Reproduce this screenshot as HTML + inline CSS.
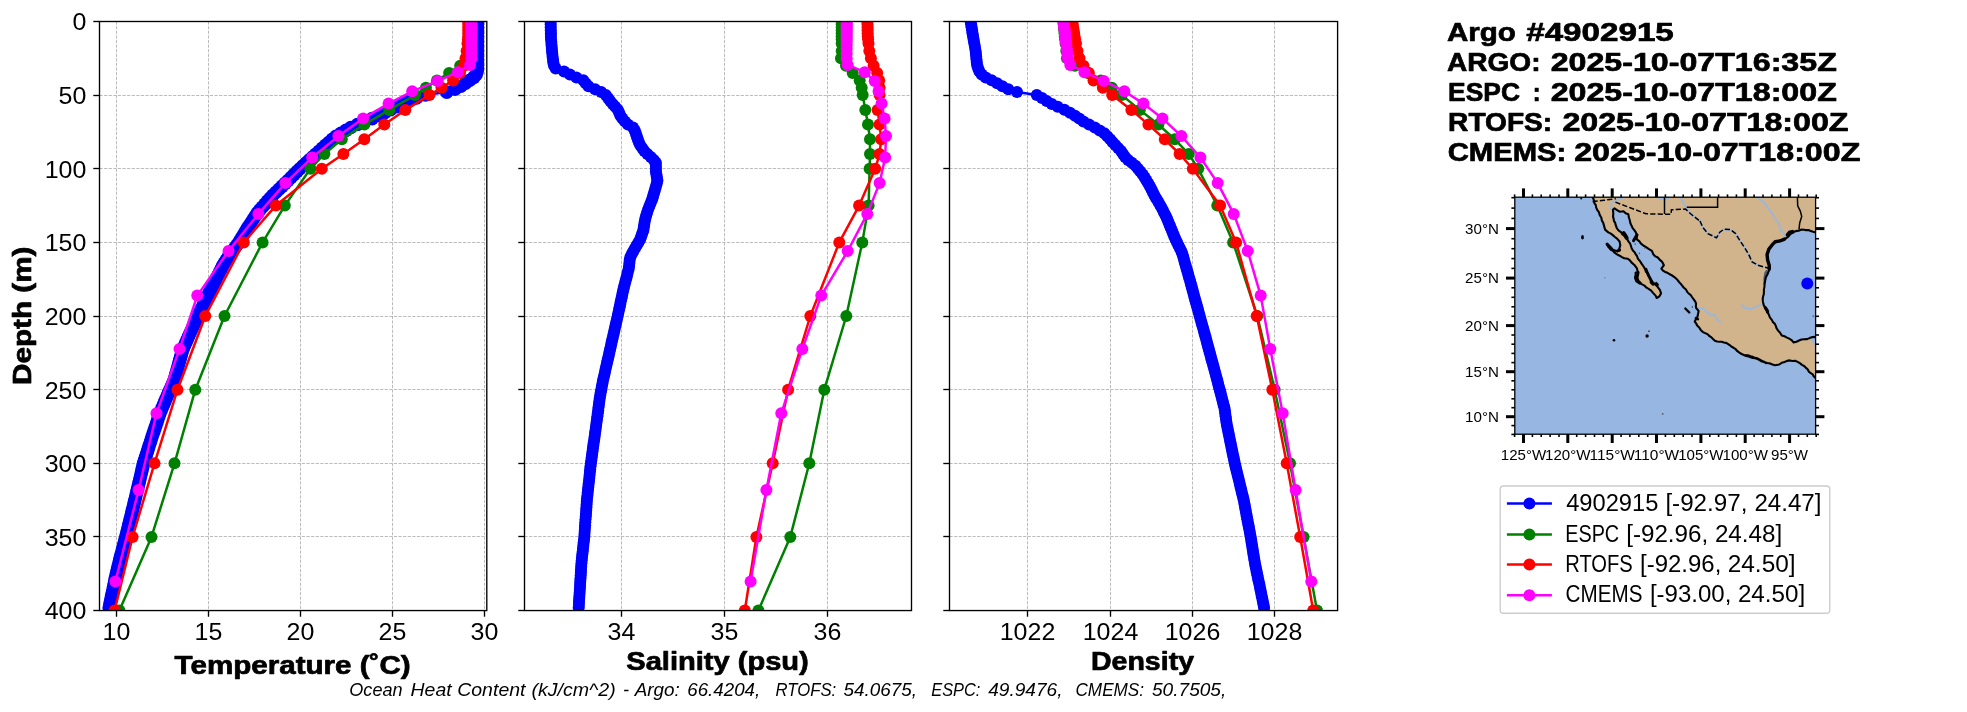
<!DOCTYPE html>
<html><head><meta charset="utf-8"><title>Argo 4902915 profile comparison</title>
<style>html,body{margin:0;padding:0;background:#fff}body{width:1967px;height:712px;overflow:hidden}</style></head>
<body>
<svg width="1967" height="712" viewBox="0 0 1967 712" style="display:block;will-change:transform;font-family:'Liberation Sans',sans-serif">
<rect width="1967" height="712" fill="#fff"/>
<defs>
<clipPath id="c0"><rect x="99.5" y="21.5" width="387.3" height="589.05"/></clipPath>
<clipPath id="c1"><rect x="524.5" y="21.5" width="387.0" height="589.05"/></clipPath>
<clipPath id="c2"><rect x="949.5" y="21.5" width="388.0999999999999" height="589.05"/></clipPath>
</defs>
<g stroke="#b0b0b0" stroke-width="0.85" stroke-dasharray="3.2,1.4">
<line x1="116.5" y1="21.5" x2="116.5" y2="610.55"/>
<line x1="208.5" y1="21.5" x2="208.5" y2="610.55"/>
<line x1="300.5" y1="21.5" x2="300.5" y2="610.55"/>
<line x1="392.5" y1="21.5" x2="392.5" y2="610.55"/>
<line x1="484.5" y1="21.5" x2="484.5" y2="610.55"/>
<line x1="99.5" y1="21.5" x2="486.8" y2="21.5"/>
<line x1="99.5" y1="95.5" x2="486.8" y2="95.5"/>
<line x1="99.5" y1="168.5" x2="486.8" y2="168.5"/>
<line x1="99.5" y1="242.5" x2="486.8" y2="242.5"/>
<line x1="99.5" y1="316.5" x2="486.8" y2="316.5"/>
<line x1="99.5" y1="389.5" x2="486.8" y2="389.5"/>
<line x1="99.5" y1="463.5" x2="486.8" y2="463.5"/>
<line x1="99.5" y1="536.5" x2="486.8" y2="536.5"/>
<line x1="99.5" y1="610.5" x2="486.8" y2="610.5"/>
</g>
<g stroke="#b0b0b0" stroke-width="0.85" stroke-dasharray="3.2,1.4">
<line x1="621.5" y1="21.5" x2="621.5" y2="610.55"/>
<line x1="724.5" y1="21.5" x2="724.5" y2="610.55"/>
<line x1="827.5" y1="21.5" x2="827.5" y2="610.55"/>
<line x1="524.5" y1="21.5" x2="911.5" y2="21.5"/>
<line x1="524.5" y1="95.5" x2="911.5" y2="95.5"/>
<line x1="524.5" y1="168.5" x2="911.5" y2="168.5"/>
<line x1="524.5" y1="242.5" x2="911.5" y2="242.5"/>
<line x1="524.5" y1="316.5" x2="911.5" y2="316.5"/>
<line x1="524.5" y1="389.5" x2="911.5" y2="389.5"/>
<line x1="524.5" y1="463.5" x2="911.5" y2="463.5"/>
<line x1="524.5" y1="536.5" x2="911.5" y2="536.5"/>
<line x1="524.5" y1="610.5" x2="911.5" y2="610.5"/>
</g>
<g stroke="#b0b0b0" stroke-width="0.85" stroke-dasharray="3.2,1.4">
<line x1="1027.5" y1="21.5" x2="1027.5" y2="610.55"/>
<line x1="1110.5" y1="21.5" x2="1110.5" y2="610.55"/>
<line x1="1192.5" y1="21.5" x2="1192.5" y2="610.55"/>
<line x1="1274.5" y1="21.5" x2="1274.5" y2="610.55"/>
<line x1="949.5" y1="21.5" x2="1337.6" y2="21.5"/>
<line x1="949.5" y1="95.5" x2="1337.6" y2="95.5"/>
<line x1="949.5" y1="168.5" x2="1337.6" y2="168.5"/>
<line x1="949.5" y1="242.5" x2="1337.6" y2="242.5"/>
<line x1="949.5" y1="316.5" x2="1337.6" y2="316.5"/>
<line x1="949.5" y1="389.5" x2="1337.6" y2="389.5"/>
<line x1="949.5" y1="463.5" x2="1337.6" y2="463.5"/>
<line x1="949.5" y1="536.5" x2="1337.6" y2="536.5"/>
<line x1="949.5" y1="610.5" x2="1337.6" y2="610.5"/>
</g>
<g clip-path="url(#c0)">
<polyline points="477.4,21.4 477.4,24.3 477.4,27.3 477.4,30.2 477.4,33.2 477.4,36.1 477.4,39.1 477.4,42.0 477.4,45.0 477.4,47.9 477.4,50.9 477.4,53.8 477.4,56.8 477.4,59.7 477.4,62.6 477.4,65.6 477.4,68.5 477.1,71.5 476.2,74.4 473.8,77.4 469.8,80.3 465.5,83.3 460.9,86.2 455.0,89.2 446.7,92.1 425.4,95.0 416.5,98.0 409.0,100.9 402.8,103.9 396.6,106.8 390.5,109.8 384.7,112.7 379.1,115.7 372.1,118.6 364.8,121.6 357.4,124.5 350.8,127.5 345.9,130.4 340.9,133.3 336.0,136.3 332.3,139.2 329.1,142.2 325.8,145.1 322.5,148.1 319.3,151.0 316.0,154.0 312.8,156.9 309.5,159.9 306.2,162.8 303.0,165.8 299.8,168.7 296.9,171.6 293.9,174.6 291.0,177.5 288.0,180.5 285.1,183.4 282.0,186.4 279.0,189.3 275.9,192.3 272.8,195.2 270.1,198.2 267.5,201.1 265.0,204.1 262.4,207.0 259.8,209.9 257.4,212.9 255.5,215.8 253.5,218.8 251.6,221.7 249.7,224.7 247.7,227.6 246.0,230.6 244.2,233.5 242.4,236.5 240.7,239.4 238.9,242.3 236.7,245.3 234.5,248.2 232.2,251.2 230.2,254.1 228.2,257.1 226.2,260.0 224.3,263.0 222.6,265.9 221.2,268.9 219.7,271.8 218.2,274.8 216.7,277.7 215.3,280.6 213.8,283.6 212.3,286.5 210.9,289.5 209.4,292.4 207.9,295.4 206.4,298.3 205.0,301.3 203.6,304.2 202.2,307.2 200.8,310.1 199.4,313.1 198.0,316.0 196.6,318.9 195.3,321.9 193.9,324.8 192.5,327.8 191.1,330.7 189.8,333.7 188.5,336.6 187.2,339.6 185.9,342.5 184.6,345.5 183.3,348.4 182.2,351.4 181.4,354.3 180.6,357.2 179.7,360.2 178.9,363.1 178.1,366.1 177.3,369.0 176.4,372.0 175.6,374.9 174.8,377.9 173.8,380.8 172.5,383.8 171.2,386.7 169.9,389.7 168.6,392.6 167.4,395.5 166.1,398.5 164.9,401.4 163.7,404.4 162.4,407.3 161.2,410.3 159.9,413.2 158.9,416.2 157.9,419.1 157.0,422.1 156.0,425.0 155.0,427.9 154.0,430.9 153.0,433.8 152.0,436.8 151.1,439.7 150.2,442.7 149.2,445.6 148.3,448.6 147.4,451.5 146.4,454.5 145.5,457.4 144.5,460.4 143.6,463.3 142.9,466.2 142.2,469.2 141.5,472.1 140.8,475.1 140.1,478.0 139.4,481.0 138.7,483.9 138.0,486.9 137.3,489.8 136.6,492.8 135.9,495.7 135.2,498.7 134.5,501.6 133.8,504.5 133.1,507.5 132.4,510.4 131.7,513.4 131.0,516.3 130.2,519.3 129.5,522.2 128.7,525.2 128.0,528.1 127.2,531.1 126.5,534.0 125.7,537.0 124.9,539.9 124.2,542.8 123.4,545.8 122.6,548.7 121.9,551.7 121.1,554.6 120.3,557.6 119.6,560.5 118.9,563.5 118.2,566.4 117.5,569.4 116.8,572.3 116.1,575.2 115.4,578.2 114.7,581.1 114.1,584.1 113.5,587.0 112.9,590.0 112.3,592.9 111.6,595.9 111.0,598.8 110.4,601.8 109.8,604.7 109.2,607.7" fill="none" stroke="#0000ff" stroke-width="2.5" stroke-linejoin="round" stroke-linecap="round" /><circle cx="477.4" cy="21.4" r="6.8" fill="#0000ff"/><circle cx="477.4" cy="24.3" r="6.8" fill="#0000ff"/><circle cx="477.4" cy="27.3" r="6.8" fill="#0000ff"/><circle cx="477.4" cy="30.2" r="6.8" fill="#0000ff"/><circle cx="477.4" cy="33.2" r="6.8" fill="#0000ff"/><circle cx="477.4" cy="36.1" r="6.8" fill="#0000ff"/><circle cx="477.4" cy="39.1" r="6.8" fill="#0000ff"/><circle cx="477.4" cy="42.0" r="6.8" fill="#0000ff"/><circle cx="477.4" cy="45.0" r="6.8" fill="#0000ff"/><circle cx="477.4" cy="47.9" r="6.8" fill="#0000ff"/><circle cx="477.4" cy="50.9" r="6.8" fill="#0000ff"/><circle cx="477.4" cy="53.8" r="6.8" fill="#0000ff"/><circle cx="477.4" cy="56.8" r="6.8" fill="#0000ff"/><circle cx="477.4" cy="59.7" r="6.8" fill="#0000ff"/><circle cx="477.4" cy="62.6" r="6.8" fill="#0000ff"/><circle cx="477.4" cy="65.6" r="6.8" fill="#0000ff"/><circle cx="477.4" cy="68.5" r="6.8" fill="#0000ff"/><circle cx="477.1" cy="71.5" r="6.8" fill="#0000ff"/><circle cx="476.2" cy="74.4" r="6.8" fill="#0000ff"/><circle cx="473.8" cy="77.4" r="6.8" fill="#0000ff"/><circle cx="469.8" cy="80.3" r="6.8" fill="#0000ff"/><circle cx="465.5" cy="83.3" r="6.8" fill="#0000ff"/><circle cx="460.9" cy="86.2" r="6.8" fill="#0000ff"/><circle cx="455.0" cy="89.2" r="6.8" fill="#0000ff"/><circle cx="446.7" cy="92.1" r="6.8" fill="#0000ff"/><circle cx="425.4" cy="95.0" r="6.8" fill="#0000ff"/><circle cx="416.5" cy="98.0" r="6.8" fill="#0000ff"/><circle cx="409.0" cy="100.9" r="6.8" fill="#0000ff"/><circle cx="402.8" cy="103.9" r="6.8" fill="#0000ff"/><circle cx="396.6" cy="106.8" r="6.8" fill="#0000ff"/><circle cx="390.5" cy="109.8" r="6.8" fill="#0000ff"/><circle cx="384.7" cy="112.7" r="6.8" fill="#0000ff"/><circle cx="379.1" cy="115.7" r="6.8" fill="#0000ff"/><circle cx="372.1" cy="118.6" r="6.8" fill="#0000ff"/><circle cx="364.8" cy="121.6" r="6.8" fill="#0000ff"/><circle cx="357.4" cy="124.5" r="6.8" fill="#0000ff"/><circle cx="350.8" cy="127.5" r="6.8" fill="#0000ff"/><circle cx="345.9" cy="130.4" r="6.8" fill="#0000ff"/><circle cx="340.9" cy="133.3" r="6.8" fill="#0000ff"/><circle cx="336.0" cy="136.3" r="6.8" fill="#0000ff"/><circle cx="332.3" cy="139.2" r="6.8" fill="#0000ff"/><circle cx="329.1" cy="142.2" r="6.8" fill="#0000ff"/><circle cx="325.8" cy="145.1" r="6.8" fill="#0000ff"/><circle cx="322.5" cy="148.1" r="6.8" fill="#0000ff"/><circle cx="319.3" cy="151.0" r="6.8" fill="#0000ff"/><circle cx="316.0" cy="154.0" r="6.8" fill="#0000ff"/><circle cx="312.8" cy="156.9" r="6.8" fill="#0000ff"/><circle cx="309.5" cy="159.9" r="6.8" fill="#0000ff"/><circle cx="306.2" cy="162.8" r="6.8" fill="#0000ff"/><circle cx="303.0" cy="165.8" r="6.8" fill="#0000ff"/><circle cx="299.8" cy="168.7" r="6.8" fill="#0000ff"/><circle cx="296.9" cy="171.6" r="6.8" fill="#0000ff"/><circle cx="293.9" cy="174.6" r="6.8" fill="#0000ff"/><circle cx="291.0" cy="177.5" r="6.8" fill="#0000ff"/><circle cx="288.0" cy="180.5" r="6.8" fill="#0000ff"/><circle cx="285.1" cy="183.4" r="6.8" fill="#0000ff"/><circle cx="282.0" cy="186.4" r="6.8" fill="#0000ff"/><circle cx="279.0" cy="189.3" r="6.8" fill="#0000ff"/><circle cx="275.9" cy="192.3" r="6.8" fill="#0000ff"/><circle cx="272.8" cy="195.2" r="6.8" fill="#0000ff"/><circle cx="270.1" cy="198.2" r="6.8" fill="#0000ff"/><circle cx="267.5" cy="201.1" r="6.8" fill="#0000ff"/><circle cx="265.0" cy="204.1" r="6.8" fill="#0000ff"/><circle cx="262.4" cy="207.0" r="6.8" fill="#0000ff"/><circle cx="259.8" cy="209.9" r="6.8" fill="#0000ff"/><circle cx="257.4" cy="212.9" r="6.8" fill="#0000ff"/><circle cx="255.5" cy="215.8" r="6.8" fill="#0000ff"/><circle cx="253.5" cy="218.8" r="6.8" fill="#0000ff"/><circle cx="251.6" cy="221.7" r="6.8" fill="#0000ff"/><circle cx="249.7" cy="224.7" r="6.8" fill="#0000ff"/><circle cx="247.7" cy="227.6" r="6.8" fill="#0000ff"/><circle cx="246.0" cy="230.6" r="6.8" fill="#0000ff"/><circle cx="244.2" cy="233.5" r="6.8" fill="#0000ff"/><circle cx="242.4" cy="236.5" r="6.8" fill="#0000ff"/><circle cx="240.7" cy="239.4" r="6.8" fill="#0000ff"/><circle cx="238.9" cy="242.3" r="6.8" fill="#0000ff"/><circle cx="236.7" cy="245.3" r="6.8" fill="#0000ff"/><circle cx="234.5" cy="248.2" r="6.8" fill="#0000ff"/><circle cx="232.2" cy="251.2" r="6.8" fill="#0000ff"/><circle cx="230.2" cy="254.1" r="6.8" fill="#0000ff"/><circle cx="228.2" cy="257.1" r="6.8" fill="#0000ff"/><circle cx="226.2" cy="260.0" r="6.8" fill="#0000ff"/><circle cx="224.3" cy="263.0" r="6.8" fill="#0000ff"/><circle cx="222.6" cy="265.9" r="6.8" fill="#0000ff"/><circle cx="221.2" cy="268.9" r="6.8" fill="#0000ff"/><circle cx="219.7" cy="271.8" r="6.8" fill="#0000ff"/><circle cx="218.2" cy="274.8" r="6.8" fill="#0000ff"/><circle cx="216.7" cy="277.7" r="6.8" fill="#0000ff"/><circle cx="215.3" cy="280.6" r="6.8" fill="#0000ff"/><circle cx="213.8" cy="283.6" r="6.8" fill="#0000ff"/><circle cx="212.3" cy="286.5" r="6.8" fill="#0000ff"/><circle cx="210.9" cy="289.5" r="6.8" fill="#0000ff"/><circle cx="209.4" cy="292.4" r="6.8" fill="#0000ff"/><circle cx="207.9" cy="295.4" r="6.8" fill="#0000ff"/><circle cx="206.4" cy="298.3" r="6.8" fill="#0000ff"/><circle cx="205.0" cy="301.3" r="6.8" fill="#0000ff"/><circle cx="203.6" cy="304.2" r="6.8" fill="#0000ff"/><circle cx="202.2" cy="307.2" r="6.8" fill="#0000ff"/><circle cx="200.8" cy="310.1" r="6.8" fill="#0000ff"/><circle cx="199.4" cy="313.1" r="6.8" fill="#0000ff"/><circle cx="198.0" cy="316.0" r="6.8" fill="#0000ff"/><circle cx="196.6" cy="318.9" r="6.8" fill="#0000ff"/><circle cx="195.3" cy="321.9" r="6.8" fill="#0000ff"/><circle cx="193.9" cy="324.8" r="6.8" fill="#0000ff"/><circle cx="192.5" cy="327.8" r="6.8" fill="#0000ff"/><circle cx="191.1" cy="330.7" r="6.8" fill="#0000ff"/><circle cx="189.8" cy="333.7" r="6.8" fill="#0000ff"/><circle cx="188.5" cy="336.6" r="6.8" fill="#0000ff"/><circle cx="187.2" cy="339.6" r="6.8" fill="#0000ff"/><circle cx="185.9" cy="342.5" r="6.8" fill="#0000ff"/><circle cx="184.6" cy="345.5" r="6.8" fill="#0000ff"/><circle cx="183.3" cy="348.4" r="6.8" fill="#0000ff"/><circle cx="182.2" cy="351.4" r="6.8" fill="#0000ff"/><circle cx="181.4" cy="354.3" r="6.8" fill="#0000ff"/><circle cx="180.6" cy="357.2" r="6.8" fill="#0000ff"/><circle cx="179.7" cy="360.2" r="6.8" fill="#0000ff"/><circle cx="178.9" cy="363.1" r="6.8" fill="#0000ff"/><circle cx="178.1" cy="366.1" r="6.8" fill="#0000ff"/><circle cx="177.3" cy="369.0" r="6.8" fill="#0000ff"/><circle cx="176.4" cy="372.0" r="6.8" fill="#0000ff"/><circle cx="175.6" cy="374.9" r="6.8" fill="#0000ff"/><circle cx="174.8" cy="377.9" r="6.8" fill="#0000ff"/><circle cx="173.8" cy="380.8" r="6.8" fill="#0000ff"/><circle cx="172.5" cy="383.8" r="6.8" fill="#0000ff"/><circle cx="171.2" cy="386.7" r="6.8" fill="#0000ff"/><circle cx="169.9" cy="389.7" r="6.8" fill="#0000ff"/><circle cx="168.6" cy="392.6" r="6.8" fill="#0000ff"/><circle cx="167.4" cy="395.5" r="6.8" fill="#0000ff"/><circle cx="166.1" cy="398.5" r="6.8" fill="#0000ff"/><circle cx="164.9" cy="401.4" r="6.8" fill="#0000ff"/><circle cx="163.7" cy="404.4" r="6.8" fill="#0000ff"/><circle cx="162.4" cy="407.3" r="6.8" fill="#0000ff"/><circle cx="161.2" cy="410.3" r="6.8" fill="#0000ff"/><circle cx="159.9" cy="413.2" r="6.8" fill="#0000ff"/><circle cx="158.9" cy="416.2" r="6.8" fill="#0000ff"/><circle cx="157.9" cy="419.1" r="6.8" fill="#0000ff"/><circle cx="157.0" cy="422.1" r="6.8" fill="#0000ff"/><circle cx="156.0" cy="425.0" r="6.8" fill="#0000ff"/><circle cx="155.0" cy="427.9" r="6.8" fill="#0000ff"/><circle cx="154.0" cy="430.9" r="6.8" fill="#0000ff"/><circle cx="153.0" cy="433.8" r="6.8" fill="#0000ff"/><circle cx="152.0" cy="436.8" r="6.8" fill="#0000ff"/><circle cx="151.1" cy="439.7" r="6.8" fill="#0000ff"/><circle cx="150.2" cy="442.7" r="6.8" fill="#0000ff"/><circle cx="149.2" cy="445.6" r="6.8" fill="#0000ff"/><circle cx="148.3" cy="448.6" r="6.8" fill="#0000ff"/><circle cx="147.4" cy="451.5" r="6.8" fill="#0000ff"/><circle cx="146.4" cy="454.5" r="6.8" fill="#0000ff"/><circle cx="145.5" cy="457.4" r="6.8" fill="#0000ff"/><circle cx="144.5" cy="460.4" r="6.8" fill="#0000ff"/><circle cx="143.6" cy="463.3" r="6.8" fill="#0000ff"/><circle cx="142.9" cy="466.2" r="6.8" fill="#0000ff"/><circle cx="142.2" cy="469.2" r="6.8" fill="#0000ff"/><circle cx="141.5" cy="472.1" r="6.8" fill="#0000ff"/><circle cx="140.8" cy="475.1" r="6.8" fill="#0000ff"/><circle cx="140.1" cy="478.0" r="6.8" fill="#0000ff"/><circle cx="139.4" cy="481.0" r="6.8" fill="#0000ff"/><circle cx="138.7" cy="483.9" r="6.8" fill="#0000ff"/><circle cx="138.0" cy="486.9" r="6.8" fill="#0000ff"/><circle cx="137.3" cy="489.8" r="6.8" fill="#0000ff"/><circle cx="136.6" cy="492.8" r="6.8" fill="#0000ff"/><circle cx="135.9" cy="495.7" r="6.8" fill="#0000ff"/><circle cx="135.2" cy="498.7" r="6.8" fill="#0000ff"/><circle cx="134.5" cy="501.6" r="6.8" fill="#0000ff"/><circle cx="133.8" cy="504.5" r="6.8" fill="#0000ff"/><circle cx="133.1" cy="507.5" r="6.8" fill="#0000ff"/><circle cx="132.4" cy="510.4" r="6.8" fill="#0000ff"/><circle cx="131.7" cy="513.4" r="6.8" fill="#0000ff"/><circle cx="131.0" cy="516.3" r="6.8" fill="#0000ff"/><circle cx="130.2" cy="519.3" r="6.8" fill="#0000ff"/><circle cx="129.5" cy="522.2" r="6.8" fill="#0000ff"/><circle cx="128.7" cy="525.2" r="6.8" fill="#0000ff"/><circle cx="128.0" cy="528.1" r="6.8" fill="#0000ff"/><circle cx="127.2" cy="531.1" r="6.8" fill="#0000ff"/><circle cx="126.5" cy="534.0" r="6.8" fill="#0000ff"/><circle cx="125.7" cy="537.0" r="6.8" fill="#0000ff"/><circle cx="124.9" cy="539.9" r="6.8" fill="#0000ff"/><circle cx="124.2" cy="542.8" r="6.8" fill="#0000ff"/><circle cx="123.4" cy="545.8" r="6.8" fill="#0000ff"/><circle cx="122.6" cy="548.7" r="6.8" fill="#0000ff"/><circle cx="121.9" cy="551.7" r="6.8" fill="#0000ff"/><circle cx="121.1" cy="554.6" r="6.8" fill="#0000ff"/><circle cx="120.3" cy="557.6" r="6.8" fill="#0000ff"/><circle cx="119.6" cy="560.5" r="6.8" fill="#0000ff"/><circle cx="118.9" cy="563.5" r="6.8" fill="#0000ff"/><circle cx="118.2" cy="566.4" r="6.8" fill="#0000ff"/><circle cx="117.5" cy="569.4" r="6.8" fill="#0000ff"/><circle cx="116.8" cy="572.3" r="6.8" fill="#0000ff"/><circle cx="116.1" cy="575.2" r="6.8" fill="#0000ff"/><circle cx="115.4" cy="578.2" r="6.8" fill="#0000ff"/><circle cx="114.7" cy="581.1" r="6.8" fill="#0000ff"/><circle cx="114.1" cy="584.1" r="6.8" fill="#0000ff"/><circle cx="113.5" cy="587.0" r="6.8" fill="#0000ff"/><circle cx="112.9" cy="590.0" r="6.8" fill="#0000ff"/><circle cx="112.3" cy="592.9" r="6.8" fill="#0000ff"/><circle cx="111.6" cy="595.9" r="6.8" fill="#0000ff"/><circle cx="111.0" cy="598.8" r="6.8" fill="#0000ff"/><circle cx="110.4" cy="601.8" r="6.8" fill="#0000ff"/><circle cx="109.8" cy="604.7" r="6.8" fill="#0000ff"/><circle cx="109.2" cy="607.7" r="6.8" fill="#0000ff"/>
<polyline points="470.0,21.5 470.0,24.4 469.9,27.4 469.9,30.3 469.8,33.3 469.8,36.2 469.8,39.2 469.7,43.6 469.6,51.0 469.5,58.3 460.2,65.7 449.1,73.0 437.0,80.4 425.9,87.8 415.0,95.1 389.3,109.9 364.3,124.6 341.8,139.3 324.4,154.0 310.4,168.8 284.8,205.6 262.6,242.4 224.5,316.0 195.3,389.7 174.5,463.3 151.5,536.9 119.4,610.5" fill="none" stroke="#008000" stroke-width="2.5" stroke-linejoin="round" stroke-linecap="butt"/><circle cx="470.0" cy="21.5" r="6.0" fill="#008000"/><circle cx="470.0" cy="24.4" r="6.0" fill="#008000"/><circle cx="469.9" cy="27.4" r="6.0" fill="#008000"/><circle cx="469.9" cy="30.3" r="6.0" fill="#008000"/><circle cx="469.8" cy="33.3" r="6.0" fill="#008000"/><circle cx="469.8" cy="36.2" r="6.0" fill="#008000"/><circle cx="469.8" cy="39.2" r="6.0" fill="#008000"/><circle cx="469.7" cy="43.6" r="6.0" fill="#008000"/><circle cx="469.6" cy="51.0" r="6.0" fill="#008000"/><circle cx="469.5" cy="58.3" r="6.0" fill="#008000"/><circle cx="460.2" cy="65.7" r="6.0" fill="#008000"/><circle cx="449.1" cy="73.0" r="6.0" fill="#008000"/><circle cx="437.0" cy="80.4" r="6.0" fill="#008000"/><circle cx="425.9" cy="87.8" r="6.0" fill="#008000"/><circle cx="415.0" cy="95.1" r="6.0" fill="#008000"/><circle cx="389.3" cy="109.9" r="6.0" fill="#008000"/><circle cx="364.3" cy="124.6" r="6.0" fill="#008000"/><circle cx="341.8" cy="139.3" r="6.0" fill="#008000"/><circle cx="324.4" cy="154.0" r="6.0" fill="#008000"/><circle cx="310.4" cy="168.8" r="6.0" fill="#008000"/><circle cx="284.8" cy="205.6" r="6.0" fill="#008000"/><circle cx="262.6" cy="242.4" r="6.0" fill="#008000"/><circle cx="224.5" cy="316.0" r="6.0" fill="#008000"/><circle cx="195.3" cy="389.7" r="6.0" fill="#008000"/><circle cx="174.5" cy="463.3" r="6.0" fill="#008000"/><circle cx="151.5" cy="536.9" r="6.0" fill="#008000"/><circle cx="119.4" cy="610.5" r="6.0" fill="#008000"/>
<polyline points="468.3,21.5 468.3,24.4 468.3,27.4 468.3,30.3 468.3,33.3 468.3,36.2 468.0,39.2 467.5,43.6 466.6,51.0 465.5,58.3 463.9,65.7 460.0,73.0 453.1,80.4 441.5,87.8 429.5,95.1 405.3,109.9 384.3,124.6 364.3,139.3 343.4,154.0 321.8,168.8 275.8,205.6 243.8,242.4 205.3,316.0 177.5,389.7 154.5,463.3 132.6,536.9 114.6,610.5" fill="none" stroke="#ff0000" stroke-width="2.5" stroke-linejoin="round" stroke-linecap="butt"/><circle cx="468.3" cy="21.5" r="6.0" fill="#ff0000"/><circle cx="468.3" cy="24.4" r="6.0" fill="#ff0000"/><circle cx="468.3" cy="27.4" r="6.0" fill="#ff0000"/><circle cx="468.3" cy="30.3" r="6.0" fill="#ff0000"/><circle cx="468.3" cy="33.3" r="6.0" fill="#ff0000"/><circle cx="468.3" cy="36.2" r="6.0" fill="#ff0000"/><circle cx="468.0" cy="39.2" r="6.0" fill="#ff0000"/><circle cx="467.5" cy="43.6" r="6.0" fill="#ff0000"/><circle cx="466.6" cy="51.0" r="6.0" fill="#ff0000"/><circle cx="465.5" cy="58.3" r="6.0" fill="#ff0000"/><circle cx="463.9" cy="65.7" r="6.0" fill="#ff0000"/><circle cx="460.0" cy="73.0" r="6.0" fill="#ff0000"/><circle cx="453.1" cy="80.4" r="6.0" fill="#ff0000"/><circle cx="441.5" cy="87.8" r="6.0" fill="#ff0000"/><circle cx="429.5" cy="95.1" r="6.0" fill="#ff0000"/><circle cx="405.3" cy="109.9" r="6.0" fill="#ff0000"/><circle cx="384.3" cy="124.6" r="6.0" fill="#ff0000"/><circle cx="364.3" cy="139.3" r="6.0" fill="#ff0000"/><circle cx="343.4" cy="154.0" r="6.0" fill="#ff0000"/><circle cx="321.8" cy="168.8" r="6.0" fill="#ff0000"/><circle cx="275.8" cy="205.6" r="6.0" fill="#ff0000"/><circle cx="243.8" cy="242.4" r="6.0" fill="#ff0000"/><circle cx="205.3" cy="316.0" r="6.0" fill="#ff0000"/><circle cx="177.5" cy="389.7" r="6.0" fill="#ff0000"/><circle cx="154.5" cy="463.3" r="6.0" fill="#ff0000"/><circle cx="132.6" cy="536.9" r="6.0" fill="#ff0000"/><circle cx="114.6" cy="610.5" r="6.0" fill="#ff0000"/>
<polyline points="471.5,22.2 471.5,23.8 471.5,25.4 471.5,27.1 471.5,29.0 471.5,31.0 471.5,33.2 471.5,35.6 471.5,38.3 471.5,41.3 471.5,44.8 471.5,48.7 471.5,53.3 471.5,58.6 470.0,64.9 457.9,72.2 437.7,80.9 412.2,91.3 388.6,103.6 363.1,118.4 338.4,136.1 312.2,157.5 285.4,183.1 258.4,213.9 228.5,251.0 197.3,295.6 179.5,349.1 156.5,413.3 138.6,490.0 115.4,581.4" fill="none" stroke="#ff00ff" stroke-width="2.5" stroke-linejoin="round" stroke-linecap="butt"/><circle cx="471.5" cy="22.2" r="6.0" fill="#ff00ff"/><circle cx="471.5" cy="23.8" r="6.0" fill="#ff00ff"/><circle cx="471.5" cy="25.4" r="6.0" fill="#ff00ff"/><circle cx="471.5" cy="27.1" r="6.0" fill="#ff00ff"/><circle cx="471.5" cy="29.0" r="6.0" fill="#ff00ff"/><circle cx="471.5" cy="31.0" r="6.0" fill="#ff00ff"/><circle cx="471.5" cy="33.2" r="6.0" fill="#ff00ff"/><circle cx="471.5" cy="35.6" r="6.0" fill="#ff00ff"/><circle cx="471.5" cy="38.3" r="6.0" fill="#ff00ff"/><circle cx="471.5" cy="41.3" r="6.0" fill="#ff00ff"/><circle cx="471.5" cy="44.8" r="6.0" fill="#ff00ff"/><circle cx="471.5" cy="48.7" r="6.0" fill="#ff00ff"/><circle cx="471.5" cy="53.3" r="6.0" fill="#ff00ff"/><circle cx="471.5" cy="58.6" r="6.0" fill="#ff00ff"/><circle cx="470.0" cy="64.9" r="6.0" fill="#ff00ff"/><circle cx="457.9" cy="72.2" r="6.0" fill="#ff00ff"/><circle cx="437.7" cy="80.9" r="6.0" fill="#ff00ff"/><circle cx="412.2" cy="91.3" r="6.0" fill="#ff00ff"/><circle cx="388.6" cy="103.6" r="6.0" fill="#ff00ff"/><circle cx="363.1" cy="118.4" r="6.0" fill="#ff00ff"/><circle cx="338.4" cy="136.1" r="6.0" fill="#ff00ff"/><circle cx="312.2" cy="157.5" r="6.0" fill="#ff00ff"/><circle cx="285.4" cy="183.1" r="6.0" fill="#ff00ff"/><circle cx="258.4" cy="213.9" r="6.0" fill="#ff00ff"/><circle cx="228.5" cy="251.0" r="6.0" fill="#ff00ff"/><circle cx="197.3" cy="295.6" r="6.0" fill="#ff00ff"/><circle cx="179.5" cy="349.1" r="6.0" fill="#ff00ff"/><circle cx="156.5" cy="413.3" r="6.0" fill="#ff00ff"/><circle cx="138.6" cy="490.0" r="6.0" fill="#ff00ff"/><circle cx="115.4" cy="581.4" r="6.0" fill="#ff00ff"/>
</g>
<g clip-path="url(#c1)">
<polyline points="550.6,21.4 550.7,24.3 550.7,27.3 550.8,30.2 550.9,33.2 550.9,36.1 551.0,39.1 551.3,42.0 551.5,45.0 551.8,47.9 552.0,50.9 552.3,53.8 552.6,56.8 553.0,59.7 553.3,62.6 554.0,65.6 555.7,68.5 564.0,71.5 569.9,74.4 576.4,77.4 583.3,80.3 585.7,83.3 588.5,86.2 595.1,89.2 601.2,92.1 605.8,95.0 608.0,98.0 610.2,100.9 612.7,103.9 615.2,106.8 617.8,109.8 619.2,112.7 620.4,115.7 622.4,118.6 624.9,121.6 627.9,124.5 633.0,127.5 634.8,130.4 635.8,133.3 636.8,136.3 637.8,139.2 638.9,142.2 640.1,145.1 642.2,148.1 644.3,151.0 647.4,154.0 650.8,156.9 653.8,159.9 655.9,162.8 655.9,165.8 655.9,168.7 655.9,171.6 656.4,174.6 656.9,177.5 657.4,180.5 656.8,183.4 655.9,186.4 655.1,189.3 654.2,192.3 653.3,195.2 652.5,198.2 651.5,201.1 650.3,204.1 649.1,207.0 647.9,209.9 647.0,212.9 646.1,215.8 645.3,218.8 644.7,221.7 644.2,224.7 643.8,227.6 643.3,230.6 642.2,233.5 641.2,236.5 640.1,239.4 638.5,242.3 636.7,245.3 635.0,248.2 633.3,251.2 631.8,254.1 630.4,257.1 629.7,260.0 629.4,263.0 629.1,265.9 628.7,268.9 627.9,271.8 627.2,274.8 626.5,277.7 625.7,280.6 624.9,283.6 624.1,286.5 623.4,289.5 622.7,292.4 622.1,295.4 621.5,298.3 620.8,301.3 620.2,304.2 619.6,307.2 619.0,310.1 618.3,313.1 617.7,316.0 617.0,318.9 616.3,321.9 615.7,324.8 615.0,327.8 614.3,330.7 613.7,333.7 613.0,336.6 612.3,339.6 611.6,342.5 611.0,345.5 610.3,348.4 609.6,351.4 609.0,354.3 608.3,357.2 607.6,360.2 607.0,363.1 606.3,366.1 605.6,369.0 605.0,372.0 604.3,374.9 603.6,377.9 602.9,380.8 602.4,383.8 601.8,386.7 601.3,389.7 600.7,392.6 600.2,395.5 599.7,398.5 599.3,401.4 598.9,404.4 598.5,407.3 598.2,410.3 597.8,413.2 597.4,416.2 597.0,419.1 596.6,422.1 596.2,425.0 595.8,427.9 595.4,430.9 595.0,433.8 594.6,436.8 594.2,439.7 593.7,442.7 593.3,445.6 592.9,448.6 592.5,451.5 592.1,454.5 591.7,457.4 591.3,460.4 590.9,463.3 590.5,466.2 590.2,469.2 589.9,472.1 589.6,475.1 589.3,478.0 589.0,481.0 588.6,483.9 588.3,486.9 588.0,489.8 587.7,492.8 587.4,495.7 587.0,498.7 586.8,501.6 586.6,504.5 586.4,507.5 586.2,510.4 586.0,513.4 585.8,516.3 585.5,519.3 585.3,522.2 585.1,525.2 584.9,528.1 584.7,531.1 584.5,534.0 584.3,537.0 584.0,539.9 583.6,542.8 583.3,545.8 583.0,548.7 582.7,551.7 582.3,554.6 582.0,557.6 581.7,560.5 581.4,563.5 581.2,566.4 581.0,569.4 580.9,572.3 580.7,575.2 580.5,578.2 580.3,581.1 580.1,584.1 580.0,587.0 579.8,590.0 579.6,592.9 579.4,595.9 579.2,598.8 579.0,601.8 578.9,604.7 578.7,607.7" fill="none" stroke="#0000ff" stroke-width="2.5" stroke-linejoin="round" stroke-linecap="round" /><circle cx="550.6" cy="21.4" r="6.0" fill="#0000ff"/><circle cx="550.7" cy="24.3" r="6.0" fill="#0000ff"/><circle cx="550.7" cy="27.3" r="6.0" fill="#0000ff"/><circle cx="550.8" cy="30.2" r="6.0" fill="#0000ff"/><circle cx="550.9" cy="33.2" r="6.0" fill="#0000ff"/><circle cx="550.9" cy="36.1" r="6.0" fill="#0000ff"/><circle cx="551.0" cy="39.1" r="6.0" fill="#0000ff"/><circle cx="551.3" cy="42.0" r="6.0" fill="#0000ff"/><circle cx="551.5" cy="45.0" r="6.0" fill="#0000ff"/><circle cx="551.8" cy="47.9" r="6.0" fill="#0000ff"/><circle cx="552.0" cy="50.9" r="6.0" fill="#0000ff"/><circle cx="552.3" cy="53.8" r="6.0" fill="#0000ff"/><circle cx="552.6" cy="56.8" r="6.0" fill="#0000ff"/><circle cx="553.0" cy="59.7" r="6.0" fill="#0000ff"/><circle cx="553.3" cy="62.6" r="6.0" fill="#0000ff"/><circle cx="554.0" cy="65.6" r="6.0" fill="#0000ff"/><circle cx="555.7" cy="68.5" r="6.0" fill="#0000ff"/><circle cx="564.0" cy="71.5" r="6.0" fill="#0000ff"/><circle cx="569.9" cy="74.4" r="6.0" fill="#0000ff"/><circle cx="576.4" cy="77.4" r="6.0" fill="#0000ff"/><circle cx="583.3" cy="80.3" r="6.0" fill="#0000ff"/><circle cx="585.7" cy="83.3" r="6.0" fill="#0000ff"/><circle cx="588.5" cy="86.2" r="6.0" fill="#0000ff"/><circle cx="595.1" cy="89.2" r="6.0" fill="#0000ff"/><circle cx="601.2" cy="92.1" r="6.0" fill="#0000ff"/><circle cx="605.8" cy="95.0" r="6.0" fill="#0000ff"/><circle cx="608.0" cy="98.0" r="6.0" fill="#0000ff"/><circle cx="610.2" cy="100.9" r="6.0" fill="#0000ff"/><circle cx="612.7" cy="103.9" r="6.0" fill="#0000ff"/><circle cx="615.2" cy="106.8" r="6.0" fill="#0000ff"/><circle cx="617.8" cy="109.8" r="6.0" fill="#0000ff"/><circle cx="619.2" cy="112.7" r="6.0" fill="#0000ff"/><circle cx="620.4" cy="115.7" r="6.0" fill="#0000ff"/><circle cx="622.4" cy="118.6" r="6.0" fill="#0000ff"/><circle cx="624.9" cy="121.6" r="6.0" fill="#0000ff"/><circle cx="627.9" cy="124.5" r="6.0" fill="#0000ff"/><circle cx="633.0" cy="127.5" r="6.0" fill="#0000ff"/><circle cx="634.8" cy="130.4" r="6.0" fill="#0000ff"/><circle cx="635.8" cy="133.3" r="6.0" fill="#0000ff"/><circle cx="636.8" cy="136.3" r="6.0" fill="#0000ff"/><circle cx="637.8" cy="139.2" r="6.0" fill="#0000ff"/><circle cx="638.9" cy="142.2" r="6.0" fill="#0000ff"/><circle cx="640.1" cy="145.1" r="6.0" fill="#0000ff"/><circle cx="642.2" cy="148.1" r="6.0" fill="#0000ff"/><circle cx="644.3" cy="151.0" r="6.0" fill="#0000ff"/><circle cx="647.4" cy="154.0" r="6.0" fill="#0000ff"/><circle cx="650.8" cy="156.9" r="6.0" fill="#0000ff"/><circle cx="653.8" cy="159.9" r="6.0" fill="#0000ff"/><circle cx="655.9" cy="162.8" r="6.0" fill="#0000ff"/><circle cx="655.9" cy="165.8" r="6.0" fill="#0000ff"/><circle cx="655.9" cy="168.7" r="6.0" fill="#0000ff"/><circle cx="655.9" cy="171.6" r="6.0" fill="#0000ff"/><circle cx="656.4" cy="174.6" r="6.0" fill="#0000ff"/><circle cx="656.9" cy="177.5" r="6.0" fill="#0000ff"/><circle cx="657.4" cy="180.5" r="6.0" fill="#0000ff"/><circle cx="656.8" cy="183.4" r="6.0" fill="#0000ff"/><circle cx="655.9" cy="186.4" r="6.0" fill="#0000ff"/><circle cx="655.1" cy="189.3" r="6.0" fill="#0000ff"/><circle cx="654.2" cy="192.3" r="6.0" fill="#0000ff"/><circle cx="653.3" cy="195.2" r="6.0" fill="#0000ff"/><circle cx="652.5" cy="198.2" r="6.0" fill="#0000ff"/><circle cx="651.5" cy="201.1" r="6.0" fill="#0000ff"/><circle cx="650.3" cy="204.1" r="6.0" fill="#0000ff"/><circle cx="649.1" cy="207.0" r="6.0" fill="#0000ff"/><circle cx="647.9" cy="209.9" r="6.0" fill="#0000ff"/><circle cx="647.0" cy="212.9" r="6.0" fill="#0000ff"/><circle cx="646.1" cy="215.8" r="6.0" fill="#0000ff"/><circle cx="645.3" cy="218.8" r="6.0" fill="#0000ff"/><circle cx="644.7" cy="221.7" r="6.0" fill="#0000ff"/><circle cx="644.2" cy="224.7" r="6.0" fill="#0000ff"/><circle cx="643.8" cy="227.6" r="6.0" fill="#0000ff"/><circle cx="643.3" cy="230.6" r="6.0" fill="#0000ff"/><circle cx="642.2" cy="233.5" r="6.0" fill="#0000ff"/><circle cx="641.2" cy="236.5" r="6.0" fill="#0000ff"/><circle cx="640.1" cy="239.4" r="6.0" fill="#0000ff"/><circle cx="638.5" cy="242.3" r="6.0" fill="#0000ff"/><circle cx="636.7" cy="245.3" r="6.0" fill="#0000ff"/><circle cx="635.0" cy="248.2" r="6.0" fill="#0000ff"/><circle cx="633.3" cy="251.2" r="6.0" fill="#0000ff"/><circle cx="631.8" cy="254.1" r="6.0" fill="#0000ff"/><circle cx="630.4" cy="257.1" r="6.0" fill="#0000ff"/><circle cx="629.7" cy="260.0" r="6.0" fill="#0000ff"/><circle cx="629.4" cy="263.0" r="6.0" fill="#0000ff"/><circle cx="629.1" cy="265.9" r="6.0" fill="#0000ff"/><circle cx="628.7" cy="268.9" r="6.0" fill="#0000ff"/><circle cx="627.9" cy="271.8" r="6.0" fill="#0000ff"/><circle cx="627.2" cy="274.8" r="6.0" fill="#0000ff"/><circle cx="626.5" cy="277.7" r="6.0" fill="#0000ff"/><circle cx="625.7" cy="280.6" r="6.0" fill="#0000ff"/><circle cx="624.9" cy="283.6" r="6.0" fill="#0000ff"/><circle cx="624.1" cy="286.5" r="6.0" fill="#0000ff"/><circle cx="623.4" cy="289.5" r="6.0" fill="#0000ff"/><circle cx="622.7" cy="292.4" r="6.0" fill="#0000ff"/><circle cx="622.1" cy="295.4" r="6.0" fill="#0000ff"/><circle cx="621.5" cy="298.3" r="6.0" fill="#0000ff"/><circle cx="620.8" cy="301.3" r="6.0" fill="#0000ff"/><circle cx="620.2" cy="304.2" r="6.0" fill="#0000ff"/><circle cx="619.6" cy="307.2" r="6.0" fill="#0000ff"/><circle cx="619.0" cy="310.1" r="6.0" fill="#0000ff"/><circle cx="618.3" cy="313.1" r="6.0" fill="#0000ff"/><circle cx="617.7" cy="316.0" r="6.0" fill="#0000ff"/><circle cx="617.0" cy="318.9" r="6.0" fill="#0000ff"/><circle cx="616.3" cy="321.9" r="6.0" fill="#0000ff"/><circle cx="615.7" cy="324.8" r="6.0" fill="#0000ff"/><circle cx="615.0" cy="327.8" r="6.0" fill="#0000ff"/><circle cx="614.3" cy="330.7" r="6.0" fill="#0000ff"/><circle cx="613.7" cy="333.7" r="6.0" fill="#0000ff"/><circle cx="613.0" cy="336.6" r="6.0" fill="#0000ff"/><circle cx="612.3" cy="339.6" r="6.0" fill="#0000ff"/><circle cx="611.6" cy="342.5" r="6.0" fill="#0000ff"/><circle cx="611.0" cy="345.5" r="6.0" fill="#0000ff"/><circle cx="610.3" cy="348.4" r="6.0" fill="#0000ff"/><circle cx="609.6" cy="351.4" r="6.0" fill="#0000ff"/><circle cx="609.0" cy="354.3" r="6.0" fill="#0000ff"/><circle cx="608.3" cy="357.2" r="6.0" fill="#0000ff"/><circle cx="607.6" cy="360.2" r="6.0" fill="#0000ff"/><circle cx="607.0" cy="363.1" r="6.0" fill="#0000ff"/><circle cx="606.3" cy="366.1" r="6.0" fill="#0000ff"/><circle cx="605.6" cy="369.0" r="6.0" fill="#0000ff"/><circle cx="605.0" cy="372.0" r="6.0" fill="#0000ff"/><circle cx="604.3" cy="374.9" r="6.0" fill="#0000ff"/><circle cx="603.6" cy="377.9" r="6.0" fill="#0000ff"/><circle cx="602.9" cy="380.8" r="6.0" fill="#0000ff"/><circle cx="602.4" cy="383.8" r="6.0" fill="#0000ff"/><circle cx="601.8" cy="386.7" r="6.0" fill="#0000ff"/><circle cx="601.3" cy="389.7" r="6.0" fill="#0000ff"/><circle cx="600.7" cy="392.6" r="6.0" fill="#0000ff"/><circle cx="600.2" cy="395.5" r="6.0" fill="#0000ff"/><circle cx="599.7" cy="398.5" r="6.0" fill="#0000ff"/><circle cx="599.3" cy="401.4" r="6.0" fill="#0000ff"/><circle cx="598.9" cy="404.4" r="6.0" fill="#0000ff"/><circle cx="598.5" cy="407.3" r="6.0" fill="#0000ff"/><circle cx="598.2" cy="410.3" r="6.0" fill="#0000ff"/><circle cx="597.8" cy="413.2" r="6.0" fill="#0000ff"/><circle cx="597.4" cy="416.2" r="6.0" fill="#0000ff"/><circle cx="597.0" cy="419.1" r="6.0" fill="#0000ff"/><circle cx="596.6" cy="422.1" r="6.0" fill="#0000ff"/><circle cx="596.2" cy="425.0" r="6.0" fill="#0000ff"/><circle cx="595.8" cy="427.9" r="6.0" fill="#0000ff"/><circle cx="595.4" cy="430.9" r="6.0" fill="#0000ff"/><circle cx="595.0" cy="433.8" r="6.0" fill="#0000ff"/><circle cx="594.6" cy="436.8" r="6.0" fill="#0000ff"/><circle cx="594.2" cy="439.7" r="6.0" fill="#0000ff"/><circle cx="593.7" cy="442.7" r="6.0" fill="#0000ff"/><circle cx="593.3" cy="445.6" r="6.0" fill="#0000ff"/><circle cx="592.9" cy="448.6" r="6.0" fill="#0000ff"/><circle cx="592.5" cy="451.5" r="6.0" fill="#0000ff"/><circle cx="592.1" cy="454.5" r="6.0" fill="#0000ff"/><circle cx="591.7" cy="457.4" r="6.0" fill="#0000ff"/><circle cx="591.3" cy="460.4" r="6.0" fill="#0000ff"/><circle cx="590.9" cy="463.3" r="6.0" fill="#0000ff"/><circle cx="590.5" cy="466.2" r="6.0" fill="#0000ff"/><circle cx="590.2" cy="469.2" r="6.0" fill="#0000ff"/><circle cx="589.9" cy="472.1" r="6.0" fill="#0000ff"/><circle cx="589.6" cy="475.1" r="6.0" fill="#0000ff"/><circle cx="589.3" cy="478.0" r="6.0" fill="#0000ff"/><circle cx="589.0" cy="481.0" r="6.0" fill="#0000ff"/><circle cx="588.6" cy="483.9" r="6.0" fill="#0000ff"/><circle cx="588.3" cy="486.9" r="6.0" fill="#0000ff"/><circle cx="588.0" cy="489.8" r="6.0" fill="#0000ff"/><circle cx="587.7" cy="492.8" r="6.0" fill="#0000ff"/><circle cx="587.4" cy="495.7" r="6.0" fill="#0000ff"/><circle cx="587.0" cy="498.7" r="6.0" fill="#0000ff"/><circle cx="586.8" cy="501.6" r="6.0" fill="#0000ff"/><circle cx="586.6" cy="504.5" r="6.0" fill="#0000ff"/><circle cx="586.4" cy="507.5" r="6.0" fill="#0000ff"/><circle cx="586.2" cy="510.4" r="6.0" fill="#0000ff"/><circle cx="586.0" cy="513.4" r="6.0" fill="#0000ff"/><circle cx="585.8" cy="516.3" r="6.0" fill="#0000ff"/><circle cx="585.5" cy="519.3" r="6.0" fill="#0000ff"/><circle cx="585.3" cy="522.2" r="6.0" fill="#0000ff"/><circle cx="585.1" cy="525.2" r="6.0" fill="#0000ff"/><circle cx="584.9" cy="528.1" r="6.0" fill="#0000ff"/><circle cx="584.7" cy="531.1" r="6.0" fill="#0000ff"/><circle cx="584.5" cy="534.0" r="6.0" fill="#0000ff"/><circle cx="584.3" cy="537.0" r="6.0" fill="#0000ff"/><circle cx="584.0" cy="539.9" r="6.0" fill="#0000ff"/><circle cx="583.6" cy="542.8" r="6.0" fill="#0000ff"/><circle cx="583.3" cy="545.8" r="6.0" fill="#0000ff"/><circle cx="583.0" cy="548.7" r="6.0" fill="#0000ff"/><circle cx="582.7" cy="551.7" r="6.0" fill="#0000ff"/><circle cx="582.3" cy="554.6" r="6.0" fill="#0000ff"/><circle cx="582.0" cy="557.6" r="6.0" fill="#0000ff"/><circle cx="581.7" cy="560.5" r="6.0" fill="#0000ff"/><circle cx="581.4" cy="563.5" r="6.0" fill="#0000ff"/><circle cx="581.2" cy="566.4" r="6.0" fill="#0000ff"/><circle cx="581.0" cy="569.4" r="6.0" fill="#0000ff"/><circle cx="580.9" cy="572.3" r="6.0" fill="#0000ff"/><circle cx="580.7" cy="575.2" r="6.0" fill="#0000ff"/><circle cx="580.5" cy="578.2" r="6.0" fill="#0000ff"/><circle cx="580.3" cy="581.1" r="6.0" fill="#0000ff"/><circle cx="580.1" cy="584.1" r="6.0" fill="#0000ff"/><circle cx="580.0" cy="587.0" r="6.0" fill="#0000ff"/><circle cx="579.8" cy="590.0" r="6.0" fill="#0000ff"/><circle cx="579.6" cy="592.9" r="6.0" fill="#0000ff"/><circle cx="579.4" cy="595.9" r="6.0" fill="#0000ff"/><circle cx="579.2" cy="598.8" r="6.0" fill="#0000ff"/><circle cx="579.0" cy="601.8" r="6.0" fill="#0000ff"/><circle cx="578.9" cy="604.7" r="6.0" fill="#0000ff"/><circle cx="578.7" cy="607.7" r="6.0" fill="#0000ff"/>
<polyline points="841.7,21.5 841.7,24.4 841.7,27.4 841.7,30.3 841.7,33.3 841.7,36.2 841.7,39.2 841.7,43.6 841.7,51.0 841.0,58.3 846.0,65.7 852.7,73.0 859.7,80.4 861.7,87.8 862.7,95.1 865.3,109.9 868.0,124.6 870.0,139.3 870.0,154.0 869.6,168.8 868.6,205.6 862.3,242.4 846.3,316.0 824.3,389.7 809.3,463.3 790.3,536.9 758.4,610.5" fill="none" stroke="#008000" stroke-width="2.5" stroke-linejoin="round" stroke-linecap="butt"/><circle cx="841.7" cy="21.5" r="6.0" fill="#008000"/><circle cx="841.7" cy="24.4" r="6.0" fill="#008000"/><circle cx="841.7" cy="27.4" r="6.0" fill="#008000"/><circle cx="841.7" cy="30.3" r="6.0" fill="#008000"/><circle cx="841.7" cy="33.3" r="6.0" fill="#008000"/><circle cx="841.7" cy="36.2" r="6.0" fill="#008000"/><circle cx="841.7" cy="39.2" r="6.0" fill="#008000"/><circle cx="841.7" cy="43.6" r="6.0" fill="#008000"/><circle cx="841.7" cy="51.0" r="6.0" fill="#008000"/><circle cx="841.0" cy="58.3" r="6.0" fill="#008000"/><circle cx="846.0" cy="65.7" r="6.0" fill="#008000"/><circle cx="852.7" cy="73.0" r="6.0" fill="#008000"/><circle cx="859.7" cy="80.4" r="6.0" fill="#008000"/><circle cx="861.7" cy="87.8" r="6.0" fill="#008000"/><circle cx="862.7" cy="95.1" r="6.0" fill="#008000"/><circle cx="865.3" cy="109.9" r="6.0" fill="#008000"/><circle cx="868.0" cy="124.6" r="6.0" fill="#008000"/><circle cx="870.0" cy="139.3" r="6.0" fill="#008000"/><circle cx="870.0" cy="154.0" r="6.0" fill="#008000"/><circle cx="869.6" cy="168.8" r="6.0" fill="#008000"/><circle cx="868.6" cy="205.6" r="6.0" fill="#008000"/><circle cx="862.3" cy="242.4" r="6.0" fill="#008000"/><circle cx="846.3" cy="316.0" r="6.0" fill="#008000"/><circle cx="824.3" cy="389.7" r="6.0" fill="#008000"/><circle cx="809.3" cy="463.3" r="6.0" fill="#008000"/><circle cx="790.3" cy="536.9" r="6.0" fill="#008000"/><circle cx="758.4" cy="610.5" r="6.0" fill="#008000"/>
<polyline points="867.4,21.5 867.5,24.4 867.6,27.4 867.6,30.3 867.7,33.3 867.8,36.2 868.1,39.2 868.5,43.6 869.3,51.0 870.9,58.3 873.6,65.7 877.2,73.0 879.2,80.4 879.6,87.8 879.6,95.1 877.6,109.9 879.6,124.6 881.2,139.3 879.6,154.0 875.2,168.8 859.1,205.6 839.3,242.4 810.3,316.0 788.1,389.7 772.7,463.3 756.4,536.9 744.8,610.5" fill="none" stroke="#ff0000" stroke-width="2.5" stroke-linejoin="round" stroke-linecap="butt"/><circle cx="867.4" cy="21.5" r="6.0" fill="#ff0000"/><circle cx="867.5" cy="24.4" r="6.0" fill="#ff0000"/><circle cx="867.6" cy="27.4" r="6.0" fill="#ff0000"/><circle cx="867.6" cy="30.3" r="6.0" fill="#ff0000"/><circle cx="867.7" cy="33.3" r="6.0" fill="#ff0000"/><circle cx="867.8" cy="36.2" r="6.0" fill="#ff0000"/><circle cx="868.1" cy="39.2" r="6.0" fill="#ff0000"/><circle cx="868.5" cy="43.6" r="6.0" fill="#ff0000"/><circle cx="869.3" cy="51.0" r="6.0" fill="#ff0000"/><circle cx="870.9" cy="58.3" r="6.0" fill="#ff0000"/><circle cx="873.6" cy="65.7" r="6.0" fill="#ff0000"/><circle cx="877.2" cy="73.0" r="6.0" fill="#ff0000"/><circle cx="879.2" cy="80.4" r="6.0" fill="#ff0000"/><circle cx="879.6" cy="87.8" r="6.0" fill="#ff0000"/><circle cx="879.6" cy="95.1" r="6.0" fill="#ff0000"/><circle cx="877.6" cy="109.9" r="6.0" fill="#ff0000"/><circle cx="879.6" cy="124.6" r="6.0" fill="#ff0000"/><circle cx="881.2" cy="139.3" r="6.0" fill="#ff0000"/><circle cx="879.6" cy="154.0" r="6.0" fill="#ff0000"/><circle cx="875.2" cy="168.8" r="6.0" fill="#ff0000"/><circle cx="859.1" cy="205.6" r="6.0" fill="#ff0000"/><circle cx="839.3" cy="242.4" r="6.0" fill="#ff0000"/><circle cx="810.3" cy="316.0" r="6.0" fill="#ff0000"/><circle cx="788.1" cy="389.7" r="6.0" fill="#ff0000"/><circle cx="772.7" cy="463.3" r="6.0" fill="#ff0000"/><circle cx="756.4" cy="536.9" r="6.0" fill="#ff0000"/><circle cx="744.8" cy="610.5" r="6.0" fill="#ff0000"/>
<polyline points="846.7,22.2 846.7,23.8 846.7,25.4 846.7,27.1 846.7,29.0 846.7,31.0 846.7,33.2 846.7,35.6 846.7,38.3 846.7,41.3 846.7,44.8 846.7,48.7 846.7,53.3 846.7,58.6 847.7,64.9 864.7,72.2 874.7,80.9 878.6,91.3 881.6,103.6 884.6,118.4 886.0,136.1 885.2,157.5 879.6,183.1 867.3,213.9 847.7,251.0 821.3,295.6 802.3,349.1 781.3,413.3 766.4,490.0 750.6,581.4" fill="none" stroke="#ff00ff" stroke-width="2.5" stroke-linejoin="round" stroke-linecap="butt"/><circle cx="846.7" cy="22.2" r="6.0" fill="#ff00ff"/><circle cx="846.7" cy="23.8" r="6.0" fill="#ff00ff"/><circle cx="846.7" cy="25.4" r="6.0" fill="#ff00ff"/><circle cx="846.7" cy="27.1" r="6.0" fill="#ff00ff"/><circle cx="846.7" cy="29.0" r="6.0" fill="#ff00ff"/><circle cx="846.7" cy="31.0" r="6.0" fill="#ff00ff"/><circle cx="846.7" cy="33.2" r="6.0" fill="#ff00ff"/><circle cx="846.7" cy="35.6" r="6.0" fill="#ff00ff"/><circle cx="846.7" cy="38.3" r="6.0" fill="#ff00ff"/><circle cx="846.7" cy="41.3" r="6.0" fill="#ff00ff"/><circle cx="846.7" cy="44.8" r="6.0" fill="#ff00ff"/><circle cx="846.7" cy="48.7" r="6.0" fill="#ff00ff"/><circle cx="846.7" cy="53.3" r="6.0" fill="#ff00ff"/><circle cx="846.7" cy="58.6" r="6.0" fill="#ff00ff"/><circle cx="847.7" cy="64.9" r="6.0" fill="#ff00ff"/><circle cx="864.7" cy="72.2" r="6.0" fill="#ff00ff"/><circle cx="874.7" cy="80.9" r="6.0" fill="#ff00ff"/><circle cx="878.6" cy="91.3" r="6.0" fill="#ff00ff"/><circle cx="881.6" cy="103.6" r="6.0" fill="#ff00ff"/><circle cx="884.6" cy="118.4" r="6.0" fill="#ff00ff"/><circle cx="886.0" cy="136.1" r="6.0" fill="#ff00ff"/><circle cx="885.2" cy="157.5" r="6.0" fill="#ff00ff"/><circle cx="879.6" cy="183.1" r="6.0" fill="#ff00ff"/><circle cx="867.3" cy="213.9" r="6.0" fill="#ff00ff"/><circle cx="847.7" cy="251.0" r="6.0" fill="#ff00ff"/><circle cx="821.3" cy="295.6" r="6.0" fill="#ff00ff"/><circle cx="802.3" cy="349.1" r="6.0" fill="#ff00ff"/><circle cx="781.3" cy="413.3" r="6.0" fill="#ff00ff"/><circle cx="766.4" cy="490.0" r="6.0" fill="#ff00ff"/><circle cx="750.6" cy="581.4" r="6.0" fill="#ff00ff"/>
</g>
<g clip-path="url(#c2)">
<polyline points="970.6,21.4 971.1,24.3 971.6,27.3 972.1,30.2 972.5,33.2 973.0,36.1 973.5,39.1 974.0,42.0 974.6,45.0 975.1,47.9 975.6,50.9 975.9,53.8 976.2,56.8 976.5,59.7 976.8,62.6 977.2,65.6 978.2,68.5 979.4,71.5 981.7,74.4 985.7,77.4 991.6,80.3 997.1,83.3 1002.4,86.2 1008.3,89.2 1017.0,92.1 1036.8,95.0 1042.0,98.0 1046.7,100.9 1051.8,103.9 1057.7,106.8 1064.4,109.8 1070.0,112.7 1075.0,115.7 1079.2,118.6 1083.4,121.6 1089.0,124.5 1094.8,127.5 1099.7,130.4 1104.3,133.3 1107.3,136.3 1110.2,139.2 1112.7,142.2 1115.3,145.1 1118.1,148.1 1121.0,151.0 1123.0,154.0 1125.1,156.9 1128.1,159.9 1131.8,162.8 1135.5,165.8 1138.0,168.7 1140.3,171.6 1142.7,174.6 1144.7,177.5 1146.5,180.5 1148.3,183.4 1150.0,186.4 1151.5,189.3 1152.9,192.3 1154.4,195.2 1156.1,198.2 1157.8,201.1 1159.5,204.1 1161.2,207.0 1162.8,209.9 1164.2,212.9 1165.7,215.8 1167.1,218.8 1168.3,221.7 1169.5,224.7 1170.6,227.6 1171.9,230.6 1173.1,233.5 1174.3,236.5 1175.6,239.4 1177.0,242.3 1178.4,245.3 1179.9,248.2 1181.4,251.2 1182.4,254.1 1183.3,257.1 1184.1,260.0 1184.9,263.0 1185.8,265.9 1186.6,268.9 1187.5,271.8 1188.3,274.8 1189.1,277.7 1190.0,280.6 1190.8,283.6 1191.6,286.5 1192.4,289.5 1193.2,292.4 1194.0,295.4 1194.8,298.3 1195.6,301.3 1196.5,304.2 1197.3,307.2 1198.1,310.1 1198.9,313.1 1199.7,316.0 1200.5,318.9 1201.3,321.9 1202.1,324.8 1203.0,327.8 1203.8,330.7 1204.6,333.7 1205.4,336.6 1206.2,339.6 1207.0,342.5 1207.8,345.5 1208.6,348.4 1209.4,351.4 1210.2,354.3 1211.0,357.2 1211.8,360.2 1212.6,363.1 1213.4,366.1 1214.2,369.0 1215.0,372.0 1215.8,374.9 1216.6,377.9 1217.4,380.8 1218.1,383.8 1218.9,386.7 1219.7,389.7 1220.5,392.6 1221.2,395.5 1222.0,398.5 1222.8,401.4 1223.5,404.4 1224.3,407.3 1224.9,410.3 1225.2,413.2 1225.6,416.2 1226.0,419.1 1226.4,422.1 1226.9,425.0 1227.5,427.9 1228.1,430.9 1228.7,433.8 1229.3,436.8 1229.9,439.7 1230.5,442.7 1231.1,445.6 1231.7,448.6 1232.3,451.5 1232.9,454.5 1233.6,457.4 1234.2,460.4 1234.8,463.3 1235.5,466.2 1236.2,469.2 1236.9,472.1 1237.6,475.1 1238.4,478.0 1239.1,481.0 1239.8,483.9 1240.5,486.9 1241.2,489.8 1241.9,492.8 1242.7,495.7 1243.4,498.7 1244.0,501.6 1244.6,504.5 1245.1,507.5 1245.7,510.4 1246.2,513.4 1246.8,516.3 1247.3,519.3 1247.9,522.2 1248.5,525.2 1249.0,528.1 1249.6,531.1 1250.1,534.0 1250.7,537.0 1251.2,539.9 1251.6,542.8 1252.1,545.8 1252.6,548.7 1253.0,551.7 1253.5,554.6 1254.0,557.6 1254.5,560.5 1255.0,563.5 1255.6,566.4 1256.2,569.4 1256.8,572.3 1257.4,575.2 1258.0,578.2 1258.6,581.1 1259.3,584.1 1259.9,587.0 1260.5,590.0 1261.1,592.9 1261.7,595.9 1262.3,598.8 1262.9,601.8 1263.5,604.7 1264.1,607.7" fill="none" stroke="#0000ff" stroke-width="2.5" stroke-linejoin="round" stroke-linecap="round" /><circle cx="970.6" cy="21.4" r="6.0" fill="#0000ff"/><circle cx="971.1" cy="24.3" r="6.0" fill="#0000ff"/><circle cx="971.6" cy="27.3" r="6.0" fill="#0000ff"/><circle cx="972.1" cy="30.2" r="6.0" fill="#0000ff"/><circle cx="972.5" cy="33.2" r="6.0" fill="#0000ff"/><circle cx="973.0" cy="36.1" r="6.0" fill="#0000ff"/><circle cx="973.5" cy="39.1" r="6.0" fill="#0000ff"/><circle cx="974.0" cy="42.0" r="6.0" fill="#0000ff"/><circle cx="974.6" cy="45.0" r="6.0" fill="#0000ff"/><circle cx="975.1" cy="47.9" r="6.0" fill="#0000ff"/><circle cx="975.6" cy="50.9" r="6.0" fill="#0000ff"/><circle cx="975.9" cy="53.8" r="6.0" fill="#0000ff"/><circle cx="976.2" cy="56.8" r="6.0" fill="#0000ff"/><circle cx="976.5" cy="59.7" r="6.0" fill="#0000ff"/><circle cx="976.8" cy="62.6" r="6.0" fill="#0000ff"/><circle cx="977.2" cy="65.6" r="6.0" fill="#0000ff"/><circle cx="978.2" cy="68.5" r="6.0" fill="#0000ff"/><circle cx="979.4" cy="71.5" r="6.0" fill="#0000ff"/><circle cx="981.7" cy="74.4" r="6.0" fill="#0000ff"/><circle cx="985.7" cy="77.4" r="6.0" fill="#0000ff"/><circle cx="991.6" cy="80.3" r="6.0" fill="#0000ff"/><circle cx="997.1" cy="83.3" r="6.0" fill="#0000ff"/><circle cx="1002.4" cy="86.2" r="6.0" fill="#0000ff"/><circle cx="1008.3" cy="89.2" r="6.0" fill="#0000ff"/><circle cx="1017.0" cy="92.1" r="6.0" fill="#0000ff"/><circle cx="1036.8" cy="95.0" r="6.0" fill="#0000ff"/><circle cx="1042.0" cy="98.0" r="6.0" fill="#0000ff"/><circle cx="1046.7" cy="100.9" r="6.0" fill="#0000ff"/><circle cx="1051.8" cy="103.9" r="6.0" fill="#0000ff"/><circle cx="1057.7" cy="106.8" r="6.0" fill="#0000ff"/><circle cx="1064.4" cy="109.8" r="6.0" fill="#0000ff"/><circle cx="1070.0" cy="112.7" r="6.0" fill="#0000ff"/><circle cx="1075.0" cy="115.7" r="6.0" fill="#0000ff"/><circle cx="1079.2" cy="118.6" r="6.0" fill="#0000ff"/><circle cx="1083.4" cy="121.6" r="6.0" fill="#0000ff"/><circle cx="1089.0" cy="124.5" r="6.0" fill="#0000ff"/><circle cx="1094.8" cy="127.5" r="6.0" fill="#0000ff"/><circle cx="1099.7" cy="130.4" r="6.0" fill="#0000ff"/><circle cx="1104.3" cy="133.3" r="6.0" fill="#0000ff"/><circle cx="1107.3" cy="136.3" r="6.0" fill="#0000ff"/><circle cx="1110.2" cy="139.2" r="6.0" fill="#0000ff"/><circle cx="1112.7" cy="142.2" r="6.0" fill="#0000ff"/><circle cx="1115.3" cy="145.1" r="6.0" fill="#0000ff"/><circle cx="1118.1" cy="148.1" r="6.0" fill="#0000ff"/><circle cx="1121.0" cy="151.0" r="6.0" fill="#0000ff"/><circle cx="1123.0" cy="154.0" r="6.0" fill="#0000ff"/><circle cx="1125.1" cy="156.9" r="6.0" fill="#0000ff"/><circle cx="1128.1" cy="159.9" r="6.0" fill="#0000ff"/><circle cx="1131.8" cy="162.8" r="6.0" fill="#0000ff"/><circle cx="1135.5" cy="165.8" r="6.0" fill="#0000ff"/><circle cx="1138.0" cy="168.7" r="6.0" fill="#0000ff"/><circle cx="1140.3" cy="171.6" r="6.0" fill="#0000ff"/><circle cx="1142.7" cy="174.6" r="6.0" fill="#0000ff"/><circle cx="1144.7" cy="177.5" r="6.0" fill="#0000ff"/><circle cx="1146.5" cy="180.5" r="6.0" fill="#0000ff"/><circle cx="1148.3" cy="183.4" r="6.0" fill="#0000ff"/><circle cx="1150.0" cy="186.4" r="6.0" fill="#0000ff"/><circle cx="1151.5" cy="189.3" r="6.0" fill="#0000ff"/><circle cx="1152.9" cy="192.3" r="6.0" fill="#0000ff"/><circle cx="1154.4" cy="195.2" r="6.0" fill="#0000ff"/><circle cx="1156.1" cy="198.2" r="6.0" fill="#0000ff"/><circle cx="1157.8" cy="201.1" r="6.0" fill="#0000ff"/><circle cx="1159.5" cy="204.1" r="6.0" fill="#0000ff"/><circle cx="1161.2" cy="207.0" r="6.0" fill="#0000ff"/><circle cx="1162.8" cy="209.9" r="6.0" fill="#0000ff"/><circle cx="1164.2" cy="212.9" r="6.0" fill="#0000ff"/><circle cx="1165.7" cy="215.8" r="6.0" fill="#0000ff"/><circle cx="1167.1" cy="218.8" r="6.0" fill="#0000ff"/><circle cx="1168.3" cy="221.7" r="6.0" fill="#0000ff"/><circle cx="1169.5" cy="224.7" r="6.0" fill="#0000ff"/><circle cx="1170.6" cy="227.6" r="6.0" fill="#0000ff"/><circle cx="1171.9" cy="230.6" r="6.0" fill="#0000ff"/><circle cx="1173.1" cy="233.5" r="6.0" fill="#0000ff"/><circle cx="1174.3" cy="236.5" r="6.0" fill="#0000ff"/><circle cx="1175.6" cy="239.4" r="6.0" fill="#0000ff"/><circle cx="1177.0" cy="242.3" r="6.0" fill="#0000ff"/><circle cx="1178.4" cy="245.3" r="6.0" fill="#0000ff"/><circle cx="1179.9" cy="248.2" r="6.0" fill="#0000ff"/><circle cx="1181.4" cy="251.2" r="6.0" fill="#0000ff"/><circle cx="1182.4" cy="254.1" r="6.0" fill="#0000ff"/><circle cx="1183.3" cy="257.1" r="6.0" fill="#0000ff"/><circle cx="1184.1" cy="260.0" r="6.0" fill="#0000ff"/><circle cx="1184.9" cy="263.0" r="6.0" fill="#0000ff"/><circle cx="1185.8" cy="265.9" r="6.0" fill="#0000ff"/><circle cx="1186.6" cy="268.9" r="6.0" fill="#0000ff"/><circle cx="1187.5" cy="271.8" r="6.0" fill="#0000ff"/><circle cx="1188.3" cy="274.8" r="6.0" fill="#0000ff"/><circle cx="1189.1" cy="277.7" r="6.0" fill="#0000ff"/><circle cx="1190.0" cy="280.6" r="6.0" fill="#0000ff"/><circle cx="1190.8" cy="283.6" r="6.0" fill="#0000ff"/><circle cx="1191.6" cy="286.5" r="6.0" fill="#0000ff"/><circle cx="1192.4" cy="289.5" r="6.0" fill="#0000ff"/><circle cx="1193.2" cy="292.4" r="6.0" fill="#0000ff"/><circle cx="1194.0" cy="295.4" r="6.0" fill="#0000ff"/><circle cx="1194.8" cy="298.3" r="6.0" fill="#0000ff"/><circle cx="1195.6" cy="301.3" r="6.0" fill="#0000ff"/><circle cx="1196.5" cy="304.2" r="6.0" fill="#0000ff"/><circle cx="1197.3" cy="307.2" r="6.0" fill="#0000ff"/><circle cx="1198.1" cy="310.1" r="6.0" fill="#0000ff"/><circle cx="1198.9" cy="313.1" r="6.0" fill="#0000ff"/><circle cx="1199.7" cy="316.0" r="6.0" fill="#0000ff"/><circle cx="1200.5" cy="318.9" r="6.0" fill="#0000ff"/><circle cx="1201.3" cy="321.9" r="6.0" fill="#0000ff"/><circle cx="1202.1" cy="324.8" r="6.0" fill="#0000ff"/><circle cx="1203.0" cy="327.8" r="6.0" fill="#0000ff"/><circle cx="1203.8" cy="330.7" r="6.0" fill="#0000ff"/><circle cx="1204.6" cy="333.7" r="6.0" fill="#0000ff"/><circle cx="1205.4" cy="336.6" r="6.0" fill="#0000ff"/><circle cx="1206.2" cy="339.6" r="6.0" fill="#0000ff"/><circle cx="1207.0" cy="342.5" r="6.0" fill="#0000ff"/><circle cx="1207.8" cy="345.5" r="6.0" fill="#0000ff"/><circle cx="1208.6" cy="348.4" r="6.0" fill="#0000ff"/><circle cx="1209.4" cy="351.4" r="6.0" fill="#0000ff"/><circle cx="1210.2" cy="354.3" r="6.0" fill="#0000ff"/><circle cx="1211.0" cy="357.2" r="6.0" fill="#0000ff"/><circle cx="1211.8" cy="360.2" r="6.0" fill="#0000ff"/><circle cx="1212.6" cy="363.1" r="6.0" fill="#0000ff"/><circle cx="1213.4" cy="366.1" r="6.0" fill="#0000ff"/><circle cx="1214.2" cy="369.0" r="6.0" fill="#0000ff"/><circle cx="1215.0" cy="372.0" r="6.0" fill="#0000ff"/><circle cx="1215.8" cy="374.9" r="6.0" fill="#0000ff"/><circle cx="1216.6" cy="377.9" r="6.0" fill="#0000ff"/><circle cx="1217.4" cy="380.8" r="6.0" fill="#0000ff"/><circle cx="1218.1" cy="383.8" r="6.0" fill="#0000ff"/><circle cx="1218.9" cy="386.7" r="6.0" fill="#0000ff"/><circle cx="1219.7" cy="389.7" r="6.0" fill="#0000ff"/><circle cx="1220.5" cy="392.6" r="6.0" fill="#0000ff"/><circle cx="1221.2" cy="395.5" r="6.0" fill="#0000ff"/><circle cx="1222.0" cy="398.5" r="6.0" fill="#0000ff"/><circle cx="1222.8" cy="401.4" r="6.0" fill="#0000ff"/><circle cx="1223.5" cy="404.4" r="6.0" fill="#0000ff"/><circle cx="1224.3" cy="407.3" r="6.0" fill="#0000ff"/><circle cx="1224.9" cy="410.3" r="6.0" fill="#0000ff"/><circle cx="1225.2" cy="413.2" r="6.0" fill="#0000ff"/><circle cx="1225.6" cy="416.2" r="6.0" fill="#0000ff"/><circle cx="1226.0" cy="419.1" r="6.0" fill="#0000ff"/><circle cx="1226.4" cy="422.1" r="6.0" fill="#0000ff"/><circle cx="1226.9" cy="425.0" r="6.0" fill="#0000ff"/><circle cx="1227.5" cy="427.9" r="6.0" fill="#0000ff"/><circle cx="1228.1" cy="430.9" r="6.0" fill="#0000ff"/><circle cx="1228.7" cy="433.8" r="6.0" fill="#0000ff"/><circle cx="1229.3" cy="436.8" r="6.0" fill="#0000ff"/><circle cx="1229.9" cy="439.7" r="6.0" fill="#0000ff"/><circle cx="1230.5" cy="442.7" r="6.0" fill="#0000ff"/><circle cx="1231.1" cy="445.6" r="6.0" fill="#0000ff"/><circle cx="1231.7" cy="448.6" r="6.0" fill="#0000ff"/><circle cx="1232.3" cy="451.5" r="6.0" fill="#0000ff"/><circle cx="1232.9" cy="454.5" r="6.0" fill="#0000ff"/><circle cx="1233.6" cy="457.4" r="6.0" fill="#0000ff"/><circle cx="1234.2" cy="460.4" r="6.0" fill="#0000ff"/><circle cx="1234.8" cy="463.3" r="6.0" fill="#0000ff"/><circle cx="1235.5" cy="466.2" r="6.0" fill="#0000ff"/><circle cx="1236.2" cy="469.2" r="6.0" fill="#0000ff"/><circle cx="1236.9" cy="472.1" r="6.0" fill="#0000ff"/><circle cx="1237.6" cy="475.1" r="6.0" fill="#0000ff"/><circle cx="1238.4" cy="478.0" r="6.0" fill="#0000ff"/><circle cx="1239.1" cy="481.0" r="6.0" fill="#0000ff"/><circle cx="1239.8" cy="483.9" r="6.0" fill="#0000ff"/><circle cx="1240.5" cy="486.9" r="6.0" fill="#0000ff"/><circle cx="1241.2" cy="489.8" r="6.0" fill="#0000ff"/><circle cx="1241.9" cy="492.8" r="6.0" fill="#0000ff"/><circle cx="1242.7" cy="495.7" r="6.0" fill="#0000ff"/><circle cx="1243.4" cy="498.7" r="6.0" fill="#0000ff"/><circle cx="1244.0" cy="501.6" r="6.0" fill="#0000ff"/><circle cx="1244.6" cy="504.5" r="6.0" fill="#0000ff"/><circle cx="1245.1" cy="507.5" r="6.0" fill="#0000ff"/><circle cx="1245.7" cy="510.4" r="6.0" fill="#0000ff"/><circle cx="1246.2" cy="513.4" r="6.0" fill="#0000ff"/><circle cx="1246.8" cy="516.3" r="6.0" fill="#0000ff"/><circle cx="1247.3" cy="519.3" r="6.0" fill="#0000ff"/><circle cx="1247.9" cy="522.2" r="6.0" fill="#0000ff"/><circle cx="1248.5" cy="525.2" r="6.0" fill="#0000ff"/><circle cx="1249.0" cy="528.1" r="6.0" fill="#0000ff"/><circle cx="1249.6" cy="531.1" r="6.0" fill="#0000ff"/><circle cx="1250.1" cy="534.0" r="6.0" fill="#0000ff"/><circle cx="1250.7" cy="537.0" r="6.0" fill="#0000ff"/><circle cx="1251.2" cy="539.9" r="6.0" fill="#0000ff"/><circle cx="1251.6" cy="542.8" r="6.0" fill="#0000ff"/><circle cx="1252.1" cy="545.8" r="6.0" fill="#0000ff"/><circle cx="1252.6" cy="548.7" r="6.0" fill="#0000ff"/><circle cx="1253.0" cy="551.7" r="6.0" fill="#0000ff"/><circle cx="1253.5" cy="554.6" r="6.0" fill="#0000ff"/><circle cx="1254.0" cy="557.6" r="6.0" fill="#0000ff"/><circle cx="1254.5" cy="560.5" r="6.0" fill="#0000ff"/><circle cx="1255.0" cy="563.5" r="6.0" fill="#0000ff"/><circle cx="1255.6" cy="566.4" r="6.0" fill="#0000ff"/><circle cx="1256.2" cy="569.4" r="6.0" fill="#0000ff"/><circle cx="1256.8" cy="572.3" r="6.0" fill="#0000ff"/><circle cx="1257.4" cy="575.2" r="6.0" fill="#0000ff"/><circle cx="1258.0" cy="578.2" r="6.0" fill="#0000ff"/><circle cx="1258.6" cy="581.1" r="6.0" fill="#0000ff"/><circle cx="1259.3" cy="584.1" r="6.0" fill="#0000ff"/><circle cx="1259.9" cy="587.0" r="6.0" fill="#0000ff"/><circle cx="1260.5" cy="590.0" r="6.0" fill="#0000ff"/><circle cx="1261.1" cy="592.9" r="6.0" fill="#0000ff"/><circle cx="1261.7" cy="595.9" r="6.0" fill="#0000ff"/><circle cx="1262.3" cy="598.8" r="6.0" fill="#0000ff"/><circle cx="1262.9" cy="601.8" r="6.0" fill="#0000ff"/><circle cx="1263.5" cy="604.7" r="6.0" fill="#0000ff"/><circle cx="1264.1" cy="607.7" r="6.0" fill="#0000ff"/>
<polyline points="1063.4,21.5 1063.7,24.4 1064.0,27.4 1064.3,30.3 1064.6,33.3 1064.8,36.2 1065.1,39.2 1065.6,43.6 1066.3,51.0 1067.0,58.3 1074.9,65.7 1088.0,73.0 1100.8,80.4 1111.8,87.8 1121.8,95.1 1139.8,109.9 1158.4,124.6 1174.8,139.3 1188.8,154.0 1198.2,168.8 1217.3,205.6 1233.1,242.4 1257.3,316.0 1274.7,389.7 1290.0,463.3 1303.6,536.9 1317.0,610.5" fill="none" stroke="#008000" stroke-width="2.5" stroke-linejoin="round" stroke-linecap="butt"/><circle cx="1063.4" cy="21.5" r="6.0" fill="#008000"/><circle cx="1063.7" cy="24.4" r="6.0" fill="#008000"/><circle cx="1064.0" cy="27.4" r="6.0" fill="#008000"/><circle cx="1064.3" cy="30.3" r="6.0" fill="#008000"/><circle cx="1064.6" cy="33.3" r="6.0" fill="#008000"/><circle cx="1064.8" cy="36.2" r="6.0" fill="#008000"/><circle cx="1065.1" cy="39.2" r="6.0" fill="#008000"/><circle cx="1065.6" cy="43.6" r="6.0" fill="#008000"/><circle cx="1066.3" cy="51.0" r="6.0" fill="#008000"/><circle cx="1067.0" cy="58.3" r="6.0" fill="#008000"/><circle cx="1074.9" cy="65.7" r="6.0" fill="#008000"/><circle cx="1088.0" cy="73.0" r="6.0" fill="#008000"/><circle cx="1100.8" cy="80.4" r="6.0" fill="#008000"/><circle cx="1111.8" cy="87.8" r="6.0" fill="#008000"/><circle cx="1121.8" cy="95.1" r="6.0" fill="#008000"/><circle cx="1139.8" cy="109.9" r="6.0" fill="#008000"/><circle cx="1158.4" cy="124.6" r="6.0" fill="#008000"/><circle cx="1174.8" cy="139.3" r="6.0" fill="#008000"/><circle cx="1188.8" cy="154.0" r="6.0" fill="#008000"/><circle cx="1198.2" cy="168.8" r="6.0" fill="#008000"/><circle cx="1217.3" cy="205.6" r="6.0" fill="#008000"/><circle cx="1233.1" cy="242.4" r="6.0" fill="#008000"/><circle cx="1257.3" cy="316.0" r="6.0" fill="#008000"/><circle cx="1274.7" cy="389.7" r="6.0" fill="#008000"/><circle cx="1290.0" cy="463.3" r="6.0" fill="#008000"/><circle cx="1303.6" cy="536.9" r="6.0" fill="#008000"/><circle cx="1317.0" cy="610.5" r="6.0" fill="#008000"/>
<polyline points="1072.3,21.5 1072.7,24.4 1073.2,27.4 1073.6,30.3 1074.1,33.3 1074.5,36.2 1075.1,39.2 1076.0,43.6 1077.5,51.0 1079.5,58.3 1083.5,65.7 1088.9,73.0 1093.5,80.4 1102.8,87.8 1112.2,95.1 1131.4,109.9 1148.4,124.6 1164.8,139.3 1179.6,154.0 1192.8,168.8 1220.1,205.6 1236.1,242.4 1256.7,316.0 1272.3,389.7 1286.7,463.3 1300.2,536.9 1313.2,610.5" fill="none" stroke="#ff0000" stroke-width="2.5" stroke-linejoin="round" stroke-linecap="butt"/><circle cx="1072.3" cy="21.5" r="6.0" fill="#ff0000"/><circle cx="1072.7" cy="24.4" r="6.0" fill="#ff0000"/><circle cx="1073.2" cy="27.4" r="6.0" fill="#ff0000"/><circle cx="1073.6" cy="30.3" r="6.0" fill="#ff0000"/><circle cx="1074.1" cy="33.3" r="6.0" fill="#ff0000"/><circle cx="1074.5" cy="36.2" r="6.0" fill="#ff0000"/><circle cx="1075.1" cy="39.2" r="6.0" fill="#ff0000"/><circle cx="1076.0" cy="43.6" r="6.0" fill="#ff0000"/><circle cx="1077.5" cy="51.0" r="6.0" fill="#ff0000"/><circle cx="1079.5" cy="58.3" r="6.0" fill="#ff0000"/><circle cx="1083.5" cy="65.7" r="6.0" fill="#ff0000"/><circle cx="1088.9" cy="73.0" r="6.0" fill="#ff0000"/><circle cx="1093.5" cy="80.4" r="6.0" fill="#ff0000"/><circle cx="1102.8" cy="87.8" r="6.0" fill="#ff0000"/><circle cx="1112.2" cy="95.1" r="6.0" fill="#ff0000"/><circle cx="1131.4" cy="109.9" r="6.0" fill="#ff0000"/><circle cx="1148.4" cy="124.6" r="6.0" fill="#ff0000"/><circle cx="1164.8" cy="139.3" r="6.0" fill="#ff0000"/><circle cx="1179.6" cy="154.0" r="6.0" fill="#ff0000"/><circle cx="1192.8" cy="168.8" r="6.0" fill="#ff0000"/><circle cx="1220.1" cy="205.6" r="6.0" fill="#ff0000"/><circle cx="1236.1" cy="242.4" r="6.0" fill="#ff0000"/><circle cx="1256.7" cy="316.0" r="6.0" fill="#ff0000"/><circle cx="1272.3" cy="389.7" r="6.0" fill="#ff0000"/><circle cx="1286.7" cy="463.3" r="6.0" fill="#ff0000"/><circle cx="1300.2" cy="536.9" r="6.0" fill="#ff0000"/><circle cx="1313.2" cy="610.5" r="6.0" fill="#ff0000"/>
<polyline points="1063.6,22.2 1063.8,23.8 1064.0,25.4 1064.2,27.1 1064.4,29.0 1064.7,31.0 1064.9,33.2 1065.2,35.6 1065.5,38.3 1065.9,41.3 1066.3,44.8 1066.8,48.7 1067.4,53.3 1068.0,58.6 1070.3,64.9 1084.5,72.2 1103.8,80.9 1124.4,91.3 1143.4,103.6 1162.4,118.4 1181.4,136.1 1200.4,157.5 1217.7,183.1 1233.7,213.9 1247.7,251.0 1260.7,295.6 1270.3,349.1 1282.7,413.3 1295.6,490.0 1311.3,581.4" fill="none" stroke="#ff00ff" stroke-width="2.5" stroke-linejoin="round" stroke-linecap="butt"/><circle cx="1063.6" cy="22.2" r="6.0" fill="#ff00ff"/><circle cx="1063.8" cy="23.8" r="6.0" fill="#ff00ff"/><circle cx="1064.0" cy="25.4" r="6.0" fill="#ff00ff"/><circle cx="1064.2" cy="27.1" r="6.0" fill="#ff00ff"/><circle cx="1064.4" cy="29.0" r="6.0" fill="#ff00ff"/><circle cx="1064.7" cy="31.0" r="6.0" fill="#ff00ff"/><circle cx="1064.9" cy="33.2" r="6.0" fill="#ff00ff"/><circle cx="1065.2" cy="35.6" r="6.0" fill="#ff00ff"/><circle cx="1065.5" cy="38.3" r="6.0" fill="#ff00ff"/><circle cx="1065.9" cy="41.3" r="6.0" fill="#ff00ff"/><circle cx="1066.3" cy="44.8" r="6.0" fill="#ff00ff"/><circle cx="1066.8" cy="48.7" r="6.0" fill="#ff00ff"/><circle cx="1067.4" cy="53.3" r="6.0" fill="#ff00ff"/><circle cx="1068.0" cy="58.6" r="6.0" fill="#ff00ff"/><circle cx="1070.3" cy="64.9" r="6.0" fill="#ff00ff"/><circle cx="1084.5" cy="72.2" r="6.0" fill="#ff00ff"/><circle cx="1103.8" cy="80.9" r="6.0" fill="#ff00ff"/><circle cx="1124.4" cy="91.3" r="6.0" fill="#ff00ff"/><circle cx="1143.4" cy="103.6" r="6.0" fill="#ff00ff"/><circle cx="1162.4" cy="118.4" r="6.0" fill="#ff00ff"/><circle cx="1181.4" cy="136.1" r="6.0" fill="#ff00ff"/><circle cx="1200.4" cy="157.5" r="6.0" fill="#ff00ff"/><circle cx="1217.7" cy="183.1" r="6.0" fill="#ff00ff"/><circle cx="1233.7" cy="213.9" r="6.0" fill="#ff00ff"/><circle cx="1247.7" cy="251.0" r="6.0" fill="#ff00ff"/><circle cx="1260.7" cy="295.6" r="6.0" fill="#ff00ff"/><circle cx="1270.3" cy="349.1" r="6.0" fill="#ff00ff"/><circle cx="1282.7" cy="413.3" r="6.0" fill="#ff00ff"/><circle cx="1295.6" cy="490.0" r="6.0" fill="#ff00ff"/><circle cx="1311.3" cy="581.4" r="6.0" fill="#ff00ff"/>
</g>
<rect x="99.5" y="21.5" width="387.3" height="589.05" fill="none" stroke="#000" stroke-width="1.35"/>
<g stroke="#000" stroke-width="1.35">
<line x1="116.5" y1="610.55" x2="116.5" y2="616.75"/>
<line x1="208.5" y1="610.55" x2="208.5" y2="616.75"/>
<line x1="300.5" y1="610.55" x2="300.5" y2="616.75"/>
<line x1="392.5" y1="610.55" x2="392.5" y2="616.75"/>
<line x1="484.5" y1="610.55" x2="484.5" y2="616.75"/>
<line x1="93.3" y1="21.5" x2="99.5" y2="21.5"/>
<line x1="93.3" y1="95.5" x2="99.5" y2="95.5"/>
<line x1="93.3" y1="168.5" x2="99.5" y2="168.5"/>
<line x1="93.3" y1="242.5" x2="99.5" y2="242.5"/>
<line x1="93.3" y1="316.5" x2="99.5" y2="316.5"/>
<line x1="93.3" y1="389.5" x2="99.5" y2="389.5"/>
<line x1="93.3" y1="463.5" x2="99.5" y2="463.5"/>
<line x1="93.3" y1="536.5" x2="99.5" y2="536.5"/>
<line x1="93.3" y1="610.5" x2="99.5" y2="610.5"/>
</g>
<rect x="524.5" y="21.5" width="387.0" height="589.05" fill="none" stroke="#000" stroke-width="1.35"/>
<g stroke="#000" stroke-width="1.35">
<line x1="621.5" y1="610.55" x2="621.5" y2="616.75"/>
<line x1="724.5" y1="610.55" x2="724.5" y2="616.75"/>
<line x1="827.5" y1="610.55" x2="827.5" y2="616.75"/>
<line x1="518.3" y1="21.5" x2="524.5" y2="21.5"/>
<line x1="518.3" y1="95.5" x2="524.5" y2="95.5"/>
<line x1="518.3" y1="168.5" x2="524.5" y2="168.5"/>
<line x1="518.3" y1="242.5" x2="524.5" y2="242.5"/>
<line x1="518.3" y1="316.5" x2="524.5" y2="316.5"/>
<line x1="518.3" y1="389.5" x2="524.5" y2="389.5"/>
<line x1="518.3" y1="463.5" x2="524.5" y2="463.5"/>
<line x1="518.3" y1="536.5" x2="524.5" y2="536.5"/>
<line x1="518.3" y1="610.5" x2="524.5" y2="610.5"/>
</g>
<rect x="949.5" y="21.5" width="388.0999999999999" height="589.05" fill="none" stroke="#000" stroke-width="1.35"/>
<g stroke="#000" stroke-width="1.35">
<line x1="1027.5" y1="610.55" x2="1027.5" y2="616.75"/>
<line x1="1110.5" y1="610.55" x2="1110.5" y2="616.75"/>
<line x1="1192.5" y1="610.55" x2="1192.5" y2="616.75"/>
<line x1="1274.5" y1="610.55" x2="1274.5" y2="616.75"/>
<line x1="943.3" y1="21.5" x2="949.5" y2="21.5"/>
<line x1="943.3" y1="95.5" x2="949.5" y2="95.5"/>
<line x1="943.3" y1="168.5" x2="949.5" y2="168.5"/>
<line x1="943.3" y1="242.5" x2="949.5" y2="242.5"/>
<line x1="943.3" y1="316.5" x2="949.5" y2="316.5"/>
<line x1="943.3" y1="389.5" x2="949.5" y2="389.5"/>
<line x1="943.3" y1="463.5" x2="949.5" y2="463.5"/>
<line x1="943.3" y1="536.5" x2="949.5" y2="536.5"/>
<line x1="943.3" y1="610.5" x2="949.5" y2="610.5"/>
</g>
<text x="102.6" y="640.2" font-size="23.6" text-anchor="start" font-weight="normal" font-style="normal" textLength="27.8" lengthAdjust="spacingAndGlyphs" >10</text>
<text x="194.6" y="640.2" font-size="23.6" text-anchor="start" font-weight="normal" font-style="normal" textLength="27.8" lengthAdjust="spacingAndGlyphs" >15</text>
<text x="286.6" y="640.2" font-size="23.6" text-anchor="start" font-weight="normal" font-style="normal" textLength="27.8" lengthAdjust="spacingAndGlyphs" >20</text>
<text x="378.6" y="640.2" font-size="23.6" text-anchor="start" font-weight="normal" font-style="normal" textLength="27.8" lengthAdjust="spacingAndGlyphs" >25</text>
<text x="470.6" y="640.2" font-size="23.6" text-anchor="start" font-weight="normal" font-style="normal" textLength="27.8" lengthAdjust="spacingAndGlyphs" >30</text>
<text x="607.6" y="640.2" font-size="23.6" text-anchor="start" font-weight="normal" font-style="normal" textLength="27.8" lengthAdjust="spacingAndGlyphs" >34</text>
<text x="710.6" y="640.2" font-size="23.6" text-anchor="start" font-weight="normal" font-style="normal" textLength="27.8" lengthAdjust="spacingAndGlyphs" >35</text>
<text x="813.6" y="640.2" font-size="23.6" text-anchor="start" font-weight="normal" font-style="normal" textLength="27.8" lengthAdjust="spacingAndGlyphs" >36</text>
<text x="999.7" y="640.2" font-size="23.6" text-anchor="start" font-weight="normal" font-style="normal" textLength="55.6" lengthAdjust="spacingAndGlyphs" >1022</text>
<text x="1082.7" y="640.2" font-size="23.6" text-anchor="start" font-weight="normal" font-style="normal" textLength="55.6" lengthAdjust="spacingAndGlyphs" >1024</text>
<text x="1164.7" y="640.2" font-size="23.6" text-anchor="start" font-weight="normal" font-style="normal" textLength="55.6" lengthAdjust="spacingAndGlyphs" >1026</text>
<text x="1246.7" y="640.2" font-size="23.6" text-anchor="start" font-weight="normal" font-style="normal" textLength="55.6" lengthAdjust="spacingAndGlyphs" >1028</text>
<text x="72.5" y="30.4" font-size="23.6" text-anchor="start" font-weight="normal" font-style="normal" textLength="13.9" lengthAdjust="spacingAndGlyphs" >0</text>
<text x="58.6" y="104.0" font-size="23.6" text-anchor="start" font-weight="normal" font-style="normal" textLength="27.8" lengthAdjust="spacingAndGlyphs" >50</text>
<text x="44.7" y="177.7" font-size="23.6" text-anchor="start" font-weight="normal" font-style="normal" textLength="41.7" lengthAdjust="spacingAndGlyphs" >100</text>
<text x="44.7" y="251.3" font-size="23.6" text-anchor="start" font-weight="normal" font-style="normal" textLength="41.7" lengthAdjust="spacingAndGlyphs" >150</text>
<text x="44.7" y="324.9" font-size="23.6" text-anchor="start" font-weight="normal" font-style="normal" textLength="41.7" lengthAdjust="spacingAndGlyphs" >200</text>
<text x="44.7" y="398.6" font-size="23.6" text-anchor="start" font-weight="normal" font-style="normal" textLength="41.7" lengthAdjust="spacingAndGlyphs" >250</text>
<text x="44.7" y="472.2" font-size="23.6" text-anchor="start" font-weight="normal" font-style="normal" textLength="41.7" lengthAdjust="spacingAndGlyphs" >300</text>
<text x="44.7" y="545.8" font-size="23.6" text-anchor="start" font-weight="normal" font-style="normal" textLength="41.7" lengthAdjust="spacingAndGlyphs" >350</text>
<text x="44.7" y="619.4" font-size="23.6" text-anchor="start" font-weight="normal" font-style="normal" textLength="41.7" lengthAdjust="spacingAndGlyphs" >400</text>
<g stroke="#000" stroke-width="0.7" stroke-linejoin="round">
<text x="174.6" y="674.0" font-size="25.2" text-anchor="start" font-weight="bold" font-style="normal" textLength="236.0" lengthAdjust="spacingAndGlyphs" >Temperature (˚C)</text>
<text x="626.3" y="670.3" font-size="25.2" text-anchor="start" font-weight="bold" font-style="normal" textLength="182.5" lengthAdjust="spacingAndGlyphs" >Salinity (psu)</text>
<text x="1091.0" y="670.3" font-size="25.2" text-anchor="start" font-weight="bold" font-style="normal" textLength="103.0" lengthAdjust="spacingAndGlyphs" >Density</text>
<text transform="translate(30.6,385) rotate(-90)" font-size="25.2" font-weight="bold" textLength="138.5" lengthAdjust="spacingAndGlyphs">Depth (m)</text>
</g>
<g font-style="italic" font-size="18">
<text x="349.3" y="696" textLength="53.3" lengthAdjust="spacingAndGlyphs">Ocean</text>
<text x="410.6" y="696" textLength="41.0" lengthAdjust="spacingAndGlyphs">Heat</text>
<text x="457.2" y="696" textLength="68.3" lengthAdjust="spacingAndGlyphs">Content</text>
<text x="531.5" y="696" textLength="84.2" lengthAdjust="spacingAndGlyphs">(kJ/cm^2)</text>
<text x="623.0" y="696" textLength="6.0" lengthAdjust="spacingAndGlyphs">-</text>
<text x="634.7" y="696" textLength="45.0" lengthAdjust="spacingAndGlyphs">Argo:</text>
<text x="687.3" y="696" textLength="72.9" lengthAdjust="spacingAndGlyphs">66.4204,</text>
<text x="775.6" y="696" textLength="60.6" lengthAdjust="spacingAndGlyphs">RTOFS:</text>
<text x="843.5" y="696" textLength="73.5" lengthAdjust="spacingAndGlyphs">54.0675,</text>
<text x="931.3" y="696" textLength="49.0" lengthAdjust="spacingAndGlyphs">ESPC:</text>
<text x="988.2" y="696" textLength="74.3" lengthAdjust="spacingAndGlyphs">49.9476,</text>
<text x="1075.5" y="696" textLength="68.5" lengthAdjust="spacingAndGlyphs">CMEMS:</text>
<text x="1152.0" y="696" textLength="74.3" lengthAdjust="spacingAndGlyphs">50.7505,</text>
</g>
<g font-weight="bold" font-size="26.4" stroke="#000" stroke-width="0.7" stroke-linejoin="round">
<text x="1446.9" y="41.4" textLength="68.9" lengthAdjust="spacingAndGlyphs">Argo</text>
<text x="1526.2" y="41.4" textLength="147.6" lengthAdjust="spacingAndGlyphs">#4902915</text>
<text x="1446.9" y="71.0" textLength="93.6" lengthAdjust="spacingAndGlyphs">ARGO:</text>
<text x="1550.7" y="71.0" textLength="286.1" lengthAdjust="spacingAndGlyphs">2025-10-07T16:35Z</text>
<text x="1448.1" y="100.8" textLength="71.9" lengthAdjust="spacingAndGlyphs">ESPC</text>
<text x="1532.7" y="100.8" textLength="7.8" lengthAdjust="spacingAndGlyphs">:</text>
<text x="1550.7" y="100.8" textLength="286.1" lengthAdjust="spacingAndGlyphs">2025-10-07T18:00Z</text>
<text x="1448.1" y="130.8" textLength="104.1" lengthAdjust="spacingAndGlyphs">RTOFS:</text>
<text x="1562.4" y="130.8" textLength="286.1" lengthAdjust="spacingAndGlyphs">2025-10-07T18:00Z</text>
<text x="1447.7" y="160.6" textLength="118.6" lengthAdjust="spacingAndGlyphs">CMEMS:</text>
<text x="1574.2" y="160.6" textLength="286.1" lengthAdjust="spacingAndGlyphs">2025-10-07T18:00Z</text>
</g>
<rect x="1500.2" y="486" width="329.6" height="127.2" rx="3.3" fill="#fff" fill-opacity="0.8" stroke="#cccccc" stroke-width="1.35"/>
<g font-size="23.3">
<line x1="1506.9" y1="503.4" x2="1551.9" y2="503.4" stroke="#0000ff" stroke-width="2.5"/><circle cx="1529.4" cy="503.4" r="6" fill="#0000ff"/>
<text x="1566.2" y="511.4" textLength="92.2" lengthAdjust="spacingAndGlyphs">4902915</text>
<text x="1665.4" y="511.4" textLength="82.0" lengthAdjust="spacingAndGlyphs">[-92.97,</text>
<text x="1754.4" y="511.4" textLength="67.0" lengthAdjust="spacingAndGlyphs">24.47]</text>
<line x1="1506.9" y1="534.4" x2="1551.9" y2="534.4" stroke="#008000" stroke-width="2.5"/><circle cx="1529.4" cy="534.4" r="6" fill="#008000"/>
<text x="1565.2" y="541.6" textLength="54.0" lengthAdjust="spacingAndGlyphs">ESPC</text>
<text x="1626.2" y="541.6" textLength="82.0" lengthAdjust="spacingAndGlyphs">[-92.96,</text>
<text x="1714.9" y="541.6" textLength="67.3" lengthAdjust="spacingAndGlyphs">24.48]</text>
<line x1="1506.9" y1="564.4" x2="1551.9" y2="564.4" stroke="#ff0000" stroke-width="2.5"/><circle cx="1529.4" cy="564.4" r="6" fill="#ff0000"/>
<text x="1565.2" y="571.8" textLength="67.6" lengthAdjust="spacingAndGlyphs">RTOFS</text>
<text x="1640.1" y="571.8" textLength="81.2" lengthAdjust="spacingAndGlyphs">[-92.96,</text>
<text x="1727.7" y="571.8" textLength="67.9" lengthAdjust="spacingAndGlyphs">24.50]</text>
<line x1="1506.9" y1="595.2" x2="1551.9" y2="595.2" stroke="#ff00ff" stroke-width="2.5"/><circle cx="1529.4" cy="595.2" r="6" fill="#ff00ff"/>
<text x="1565.6" y="602" textLength="76.8" lengthAdjust="spacingAndGlyphs">CMEMS</text>
<text x="1649.9" y="602" textLength="81.5" lengthAdjust="spacingAndGlyphs">[-93.00,</text>
<text x="1737.9" y="602" textLength="67.4" lengthAdjust="spacingAndGlyphs">24.50]</text>
</g>
<g id="map">
<clipPath id="mc"><rect x="1514.8" y="197.2" width="300.79999999999995" height="237.0"/></clipPath>
<rect x="1514.8" y="197.2" width="300.79999999999995" height="237.0" fill="#97b6e1"/>
<g clip-path="url(#mc)">
<polygon points="1592.5,196.9 1593.4,198.9 1594.2,201.0 1594.4,203.2 1595.8,205.2 1596.2,207.6 1597.2,209.8 1598.9,212.2 1599.8,215.1 1601.3,217.5 1601.8,220.4 1603.2,222.8 1604.0,225.6 1605.1,229.6 1608.3,232.4 1610.9,233.6 1613.1,235.4 1614.9,237.0 1616.8,238.4 1619.6,241.5 1620.3,245.4 1619.1,249.3 1617.8,251.2 1614.4,250.3 1611.6,249.2 1609.6,246.9 1606.9,244.3 1608.5,247.0 1610.9,249.8 1613.0,250.9 1614.6,252.7 1617.0,254.4 1619.6,255.7 1621.9,257.1 1624.3,258.2 1627.8,258.7 1629.9,260.4 1631.4,262.4 1634.4,265.0 1636.8,268.1 1637.8,271.9 1635.6,272.7 1635.7,275.0 1635.2,277.3 1636.4,280.6 1639.9,282.8 1642.1,284.3 1644.4,285.6 1646.5,287.7 1649.0,289.2 1651.2,290.6 1652.8,292.6 1655.6,295.6 1656.7,298.0 1659.4,296.3 1661.0,293.4 1660.0,290.1 1657.4,286.6 1655.0,284.2 1652.4,282.0 1651.3,280.1 1650.3,278.1 1648.9,276.2 1648.1,273.9 1646.8,271.9 1645.4,270.0 1646.0,271.8 1645.0,269.0 1643.6,266.5 1641.7,263.9 1640.1,261.2 1638.0,258.9 1636.9,255.9 1635.6,254.1 1634.6,252.2 1632.9,250.6 1631.6,248.2 1630.8,245.5 1630.0,243.4 1628.6,241.6 1627.3,239.5 1625.5,237.7 1624.1,235.7 1622.2,234.2 1621.0,232.1 1618.7,230.6 1616.9,228.4 1615.9,225.7 1615.2,222.9 1613.9,220.9 1613.6,218.6 1613.0,216.4 1613.3,214.2 1613.2,212.0 1612.9,209.8 1614.5,208.4 1617.1,210.1 1619.6,211.7 1623.6,211.3 1625.6,213.2 1628.3,214.3 1629.0,217.7 1629.8,220.3 1630.3,223.0 1631.5,225.6 1632.8,228.3 1634.3,230.1 1635.7,232.1 1637.1,235.5 1636.6,239.1 1639.4,241.3 1641.0,243.7 1643.3,245.5 1646.0,247.1 1648.6,248.8 1651.9,250.8 1653.5,254.6 1655.4,256.4 1657.8,257.5 1659.6,259.6 1661.7,261.4 1662.9,263.2 1663.9,265.2 1661.4,268.7 1662.7,270.3 1664.7,271.7 1667.3,272.7 1669.8,274.3 1672.6,275.8 1675.1,277.7 1677.4,279.8 1679.2,282.2 1680.8,283.9 1682.2,285.7 1683.9,287.7 1686.0,289.5 1687.2,291.9 1688.8,293.6 1690.7,295.0 1692.0,297.0 1693.7,299.3 1695.3,301.6 1696.1,303.8 1695.8,306.2 1696.3,308.3 1698.6,310.9 1697.9,314.9 1697.3,317.1 1696.1,318.9 1694.7,321.5 1696.1,323.3 1697.1,325.5 1699.2,327.5 1700.7,329.9 1702.9,332.1 1705.8,333.4 1707.8,334.4 1709.3,336.0 1711.2,337.1 1713.0,339.0 1714.9,340.8 1717.2,341.5 1719.4,341.7 1721.7,341.8 1723.9,342.5 1726.2,342.9 1728.2,344.1 1730.0,345.3 1731.6,346.8 1733.6,347.8 1735.7,349.2 1737.4,351.2 1739.4,352.7 1741.6,354.0 1743.9,355.0 1746.1,356.0 1748.4,356.5 1750.7,356.4 1752.8,357.1 1755.1,357.9 1757.4,358.4 1759.5,359.5 1761.7,360.7 1763.9,361.7 1766.0,363.2 1764.0,361.7 1761.6,361.4 1759.6,360.0 1757.4,359.1 1755.2,358.3 1752.8,358.0 1750.5,357.3 1748.3,356.4 1746.1,355.4 1748.5,355.4 1750.6,356.3 1752.8,356.8 1755.3,358.2 1758.1,359.2 1760.2,360.5 1762.3,361.7 1764.8,362.3 1767.3,363.0 1769.9,363.4 1772.5,364.4 1775.2,365.3 1779.2,364.5 1781.7,362.8 1784.6,362.0 1787.1,360.9 1789.8,360.4 1792.4,361.0 1795.1,360.7 1797.7,361.9 1800.2,363.4 1801.9,364.9 1804.1,366.0 1805.7,367.6 1807.6,369.3 1808.8,371.6 1810.8,373.2 1812.7,374.3 1813.8,376.4 1815.5,377.9 1817.6,377.7 1817.6,337.1 1815.6,336.9 1812.5,337.1 1809.6,338.1 1807.1,339.1 1804.3,339.2 1801.5,339.5 1799.0,340.5 1796.5,341.8 1793.7,342.4 1791.2,339.8 1789.2,338.6 1787.0,337.6 1784.5,336.3 1781.7,335.5 1780.1,332.8 1778.1,330.6 1776.5,328.2 1775.7,325.6 1774.7,323.6 1773.0,322.2 1772.0,320.1 1770.0,317.7 1768.9,314.8 1767.5,312.1 1766.1,309.5 1765.2,307.5 1763.9,305.7 1762.9,301.7 1762.7,299.0 1763.1,296.4 1763.8,294.2 1763.9,292.0 1763.9,289.8 1764.4,286.9 1764.6,284.0 1765.3,279.8 1766.0,277.0 1767.4,274.5 1768.4,271.9 1769.6,269.2 1769.4,265.2 1768.6,262.5 1767.6,259.9 1767.0,257.3 1766.9,254.8 1768.0,252.2 1768.6,249.4 1770.2,247.3 1771.8,245.3 1773.2,243.4 1775.3,242.4 1777.8,241.3 1780.5,240.7 1783.4,239.9 1785.9,238.3 1788.1,236.9 1789.7,234.8 1792.4,232.2 1796.4,230.9 1799.1,230.6 1801.7,229.6 1803.9,229.8 1806.0,230.1 1808.3,230.0 1810.7,230.9 1813.2,231.8 1815.6,232.5 1817.6,232.5 1817.6,195.2 1592.5,195.2" fill="#d2b48c"/>
<polyline points="1626.2,196.9 1618.3,198.6 1611.7,203.2 1610.6,207.8 1612.7,209.8" fill="none" stroke="#97b6e1" stroke-width="1.7" stroke-linejoin="round" stroke-linecap="round"/>
<polyline points="1657.2,197.3 1660.5,199.0 1667.1,199.0 1669.1,197.3" fill="none" stroke="#97b6e1" stroke-width="1.7" stroke-linejoin="round" stroke-linecap="round"/>
<polyline points="1680.3,196.9 1683.0,201.9 1685.6,206.5 1690.9,213.8 1700.0,221.0" fill="none" stroke="#97b6e1" stroke-width="1.7" stroke-linejoin="round" stroke-linecap="round"/>
<polyline points="1700.0,221.0 1702.6,227.0 1707.9,233.6 1716.5,237.8 1719.8,232.2 1723.8,229.3 1730.4,229.6 1735.6,233.6 1739.6,240.2 1744.9,248.1 1748.8,254.7 1752.1,261.9 1758.1,265.2 1764.7,267.2 1769.3,268.5" fill="none" stroke="#97b6e1" stroke-width="1.7" stroke-linejoin="round" stroke-linecap="round"/>
<polyline points="1738.3,197.3 1742.2,197.3" fill="none" stroke="#97b6e1" stroke-width="1.7" stroke-linejoin="round" stroke-linecap="round"/>
<polyline points="1756.8,196.9 1763.4,201.9 1768.6,208.5 1773.9,216.4 1779.2,224.3 1781.2,230.9 1784.5,233.6 1785.8,238.2" fill="none" stroke="#97b6e1" stroke-width="1.7" stroke-linejoin="round" stroke-linecap="round"/>
<polyline points="1696.6,308.3 1703.2,308.3 1707.1,312.2 1711.1,315.5 1714.4,314.9 1717.7,320.2 1720.3,322.1" fill="none" stroke="#97b6e1" stroke-width="1.7" stroke-linejoin="round" stroke-linecap="round"/>
<polyline points="1741.6,305.0 1746.2,308.9 1752.8,308.3 1758.1,305.6 1763.4,304.6" fill="none" stroke="#97b6e1" stroke-width="1.7" stroke-linejoin="round" stroke-linecap="round"/>
<polyline points="1809.6,338.0 1813.5,341.9 1815.1,344.2" fill="none" stroke="#97b6e1" stroke-width="1.7" stroke-linejoin="round" stroke-linecap="round"/>
<polygon points="1808.9,338.0 1815.1,337.6 1815.1,344.6 1812.2,341.3" fill="#97b6e1"/>
<polyline points="1664.5,196.6 1664.5,214.0" fill="none" stroke="#000" stroke-width="1.5"/>
<polyline points="1686.8,207.2 1717.6,207.2 1717.6,196.6" fill="none" stroke="#000" stroke-width="1.5"/>
<polyline points="1797.4,196.6 1797.7,205.8 1800.3,211.1 1801.7,216.4 1799.7,223.0 1799.0,229.3" fill="none" stroke="#000" stroke-width="1.5"/>
<polyline points="1592.5,201.6 1603.8,200.3 1615.9,198.7" fill="none" stroke="#000" stroke-width="1.5" stroke-dasharray="5.2,2.2"/>
<polyline points="1615.4,202.1 1630.2,207.8 1646.0,213.8 1664.5,214.2 1671.1,214.2 1671.4,209.8 1685.6,209.1 1690.9,214.0 1700.0,221.3" fill="none" stroke="#000" stroke-width="1.5" stroke-dasharray="5.2,2.2"/>
<polyline points="1700.0,221.0 1702.6,227.0 1707.9,233.6 1716.5,237.8 1719.8,232.2 1723.8,229.3 1730.4,229.6 1735.6,233.6 1739.6,240.2 1744.9,248.1 1748.8,254.7 1752.1,261.9 1758.1,265.2 1764.7,267.2 1769.3,268.5" fill="none" stroke="#000" stroke-width="1.5" stroke-dasharray="5.2,2.2"/>
<polygon points="1766.0,270.0 1764.4,272.6 1763.4,277.9 1763.4,284.5 1765.0,284.5 1765.7,277.9 1767.1,272.6 1768.0,270.0" fill="#4a5a75"/>
<polyline points="1592.5,196.9 1593.4,198.9 1594.2,201.0 1594.4,203.2 1595.8,205.2 1596.2,207.6 1597.2,209.8 1598.9,212.2 1599.8,215.1 1601.3,217.5 1601.8,220.4 1603.2,222.8 1604.0,225.6 1605.1,229.6 1608.3,232.4 1610.9,233.6 1613.1,235.4 1614.9,237.0 1616.8,238.4 1619.6,241.5 1620.3,245.4 1619.1,249.3 1617.8,251.2 1614.4,250.3 1611.6,249.2 1609.6,246.9 1606.9,244.3 1608.5,247.0 1610.9,249.8 1613.0,250.9 1614.6,252.7 1617.0,254.4 1619.6,255.7 1621.9,257.1 1624.3,258.2 1627.8,258.7 1629.9,260.4 1631.4,262.4 1634.4,265.0 1636.8,268.1 1637.8,271.9 1635.6,272.7 1635.7,275.0 1635.2,277.3 1636.4,280.6 1639.9,282.8 1642.1,284.3 1644.4,285.6 1646.5,287.7 1649.0,289.2 1651.2,290.6 1652.8,292.6 1655.6,295.6 1656.7,298.0 1659.4,296.3 1661.0,293.4 1660.0,290.1 1657.4,286.6 1655.0,284.2 1652.4,282.0 1651.3,280.1 1650.3,278.1 1648.9,276.2 1648.1,273.9 1646.8,271.9 1645.4,270.0 1646.0,271.8 1645.0,269.0 1643.6,266.5 1641.7,263.9 1640.1,261.2 1638.0,258.9 1636.9,255.9 1635.6,254.1 1634.6,252.2 1632.9,250.6 1631.6,248.2 1630.8,245.5 1630.0,243.4 1628.6,241.6 1627.3,239.5 1625.5,237.7 1624.1,235.7 1622.2,234.2 1621.0,232.1 1618.7,230.6 1616.9,228.4 1615.9,225.7 1615.2,222.9 1613.9,220.9 1613.6,218.6 1613.0,216.4 1613.3,214.2 1613.2,212.0 1612.9,209.8 1614.5,208.4 1617.1,210.1 1619.6,211.7 1623.6,211.3 1625.6,213.2 1628.3,214.3 1629.0,217.7 1629.8,220.3 1630.3,223.0 1631.5,225.6 1632.8,228.3 1634.3,230.1 1635.7,232.1 1637.1,235.5 1636.6,239.1 1639.4,241.3 1641.0,243.7 1643.3,245.5 1646.0,247.1 1648.6,248.8 1651.9,250.8 1653.5,254.6 1655.4,256.4 1657.8,257.5 1659.6,259.6 1661.7,261.4 1662.9,263.2 1663.9,265.2 1661.4,268.7 1662.7,270.3 1664.7,271.7 1667.3,272.7 1669.8,274.3 1672.6,275.8 1675.1,277.7 1677.4,279.8 1679.2,282.2 1680.8,283.9 1682.2,285.7 1683.9,287.7 1686.0,289.5 1687.2,291.9 1688.8,293.6 1690.7,295.0 1692.0,297.0 1693.7,299.3 1695.3,301.6 1696.1,303.8 1695.8,306.2 1696.3,308.3 1698.6,310.9 1697.9,314.9 1697.3,317.1 1696.1,318.9 1694.7,321.5 1696.1,323.3 1697.1,325.5 1699.2,327.5 1700.7,329.9 1702.9,332.1 1705.8,333.4 1707.8,334.4 1709.3,336.0 1711.2,337.1 1713.0,339.0 1714.9,340.8 1717.2,341.5 1719.4,341.7 1721.7,341.8 1723.9,342.5 1726.2,342.9 1728.2,344.1 1730.0,345.3 1731.6,346.8 1733.6,347.8 1735.7,349.2 1737.4,351.2 1739.4,352.7 1741.6,354.0 1743.9,355.0 1746.1,356.0 1748.4,356.5 1750.7,356.4 1752.8,357.1 1755.1,357.9 1757.4,358.4 1759.5,359.5 1761.7,360.7 1763.9,361.7 1766.0,363.2 1764.0,361.7 1761.6,361.4 1759.6,360.0 1757.4,359.1 1755.2,358.3 1752.8,358.0 1750.5,357.3 1748.3,356.4 1746.1,355.4 1748.5,355.4 1750.6,356.3 1752.8,356.8 1755.3,358.2 1758.1,359.2 1760.2,360.5 1762.3,361.7 1764.8,362.3 1767.3,363.0 1769.9,363.4 1772.5,364.4 1775.2,365.3 1779.2,364.5 1781.7,362.8 1784.6,362.0 1787.1,360.9 1789.8,360.4 1792.4,361.0 1795.1,360.7 1797.7,361.9 1800.2,363.4 1801.9,364.9 1804.1,366.0 1805.7,367.6 1807.6,369.3 1808.8,371.6 1810.8,373.2 1812.7,374.3 1813.8,376.4 1815.5,377.9" fill="none" stroke="#000" stroke-width="2.1" stroke-linejoin="round" stroke-linecap="round"/>
<polyline points="1815.6,232.5 1813.2,231.8 1810.7,230.9 1808.3,230.0 1806.0,230.1 1803.9,229.8 1801.7,229.6 1799.1,230.6 1796.4,230.9 1792.4,232.2 1789.7,234.8 1788.1,236.9 1785.9,238.3 1783.4,239.9 1780.5,240.7 1777.8,241.3 1775.3,242.4 1773.2,243.4 1771.8,245.3 1770.2,247.3 1768.6,249.4 1768.0,252.2 1766.9,254.8 1767.0,257.3 1767.6,259.9 1768.6,262.5 1769.4,265.2 1769.6,269.2 1768.4,271.9 1767.4,274.5 1766.0,277.0 1765.3,279.8 1764.6,284.0 1764.4,286.9 1763.9,289.8 1763.9,292.0 1763.8,294.2 1763.1,296.4 1762.7,299.0 1762.9,301.7 1763.9,305.7 1765.2,307.5 1766.1,309.5 1767.5,312.1 1768.9,314.8 1770.0,317.7 1772.0,320.1 1773.0,322.2 1774.7,323.6 1775.7,325.6 1776.5,328.2 1778.1,330.6 1780.1,332.8 1781.7,335.5 1784.5,336.3 1787.0,337.6 1789.2,338.6 1791.2,339.8 1793.7,342.4 1796.5,341.8 1799.0,340.5 1801.5,339.5 1804.3,339.2 1807.1,339.1 1809.6,338.1 1812.5,337.1 1815.6,336.9" fill="none" stroke="#000" stroke-width="2.1" stroke-linejoin="round" stroke-linecap="round"/>
<polyline points="1792.4,232.0 1789.8,232.5 1787.8,234.9" fill="none" stroke="#000" stroke-linejoin="round" stroke-linecap="round" stroke-width="4.2"/>
<polyline points="1784.5,239.1 1780.5,240.8 1775.2,241.7 1771.9,245.2 1768.9,249.1 1767.1,254.4 1767.6,260.0 1769.2,265.2 1769.2,268.9" fill="none" stroke="#000" stroke-linejoin="round" stroke-linecap="round" stroke-width="3.4"/>
<polyline points="1623.6,232.9 1625.5,235.5 1626.9,238.2" fill="none" stroke="#000" stroke-linejoin="round" stroke-linecap="round" stroke-width="3.6"/>
<polyline points="1633.5,240.8 1636.1,236.2 1637.0,234.9" fill="none" stroke="#000" stroke-linejoin="round" stroke-linecap="round" stroke-width="3"/>
<polyline points="1607.1,244.1 1609.7,246.8 1611.7,249.1" fill="none" stroke="#000" stroke-linejoin="round" stroke-linecap="round" stroke-width="3"/>
<polyline points="1617.6,251.0 1619.6,250.1" fill="none" stroke="#000" stroke-linejoin="round" stroke-linecap="round" stroke-width="3"/>
<polyline points="1635.6,277.3 1636.9,280.8 1639.8,282.9" fill="none" stroke="#000" stroke-linejoin="round" stroke-linecap="round" stroke-width="3.4"/>
<polyline points="1651.4,282.1 1653.0,283.9" fill="none" stroke="#000" stroke-linejoin="round" stroke-linecap="round" stroke-width="3.6"/>
<polyline points="1656.3,283.2 1657.6,284.8" fill="none" stroke="#000" stroke-linejoin="round" stroke-linecap="round" stroke-width="2.6"/>
<polyline points="1765.3,307.6 1767.1,310.3 1767.6,312.0" fill="none" stroke="#000" stroke-linejoin="round" stroke-linecap="round" stroke-width="3.2"/>
<polyline points="1638.1,272.5 1637.0,277.8 1638.1,281.1" fill="none" stroke="#000" stroke-linejoin="round" stroke-linecap="round" stroke-width="3"/>
<polyline points="1646.0,269.2 1648.0,274.5 1650.0,278.4 1651.9,282.4" fill="none" stroke="#000" stroke-linejoin="round" stroke-linecap="round" stroke-width="2.8"/>
<polyline points="1695.9,318.2 1697.9,319.1" fill="none" stroke="#000" stroke-linejoin="round" stroke-linecap="round" stroke-width="2.6"/>
<ellipse cx="1582.5" cy="237.3" rx="1.4" ry="2.3" fill="#000"/>
<circle cx="1605.0" cy="277.7" r="0.7" fill="#6a7a99"/>
<circle cx="1614.0" cy="340.2" r="1.3" fill="#000"/>
<circle cx="1647.1" cy="336.0" r="1.7" fill="#000"/>
<circle cx="1649.0" cy="331.2" r="0.9" fill="#444"/>
<circle cx="1662.7" cy="413.8" r="0.9" fill="#556"/>
<circle cx="1813.3" cy="316.2" r="0.9" fill="#667"/>
<circle cx="1581.2" cy="198.5" r="1.0" fill="#000"/>
<circle cx="1608.4" cy="246.2" r="1.3" fill="#000"/>
<polyline points="1685.3,308.5 1689.3,312.5" fill="none" stroke="#000" stroke-linejoin="round" stroke-linecap="round" stroke-width="2.4"/>
<circle cx="1692.3" cy="307.0" r="0.8" fill="#333"/>
<circle cx="1635.2" cy="244.1" r="0.8" fill="#556"/>
<circle cx="1639.4" cy="253.4" r="0.8" fill="#556"/>
<circle cx="1644.7" cy="248.1" r="0.7" fill="#556"/>
<circle cx="1807.3" cy="283.5" r="6" fill="#0000ff"/>
</g>
<rect x="1514.8" y="197.2" width="300.79999999999995" height="237.0" fill="none" stroke="#000" stroke-width="1.3"/>
<g stroke="#000">
<line x1="1514.6" y1="434.2" x2="1514.6" y2="437.0" stroke-width="1.6"/><line x1="1514.6" y1="197.2" x2="1514.6" y2="194.39999999999998" stroke-width="1.6"/>
<line x1="1523.5" y1="434.2" x2="1523.5" y2="443.0" stroke-width="3"/><line x1="1523.5" y1="197.2" x2="1523.5" y2="188.39999999999998" stroke-width="3"/>
<line x1="1532.4" y1="434.2" x2="1532.4" y2="437.0" stroke-width="1.6"/><line x1="1532.4" y1="197.2" x2="1532.4" y2="194.39999999999998" stroke-width="1.6"/>
<line x1="1541.2" y1="434.2" x2="1541.2" y2="437.0" stroke-width="1.6"/><line x1="1541.2" y1="197.2" x2="1541.2" y2="194.39999999999998" stroke-width="1.6"/>
<line x1="1550.1" y1="434.2" x2="1550.1" y2="437.0" stroke-width="1.6"/><line x1="1550.1" y1="197.2" x2="1550.1" y2="194.39999999999998" stroke-width="1.6"/>
<line x1="1559.0" y1="434.2" x2="1559.0" y2="437.0" stroke-width="1.6"/><line x1="1559.0" y1="197.2" x2="1559.0" y2="194.39999999999998" stroke-width="1.6"/>
<line x1="1567.8" y1="434.2" x2="1567.8" y2="443.0" stroke-width="3"/><line x1="1567.8" y1="197.2" x2="1567.8" y2="188.39999999999998" stroke-width="3"/>
<line x1="1576.7" y1="434.2" x2="1576.7" y2="437.0" stroke-width="1.6"/><line x1="1576.7" y1="197.2" x2="1576.7" y2="194.39999999999998" stroke-width="1.6"/>
<line x1="1585.6" y1="434.2" x2="1585.6" y2="437.0" stroke-width="1.6"/><line x1="1585.6" y1="197.2" x2="1585.6" y2="194.39999999999998" stroke-width="1.6"/>
<line x1="1594.5" y1="434.2" x2="1594.5" y2="437.0" stroke-width="1.6"/><line x1="1594.5" y1="197.2" x2="1594.5" y2="194.39999999999998" stroke-width="1.6"/>
<line x1="1603.3" y1="434.2" x2="1603.3" y2="437.0" stroke-width="1.6"/><line x1="1603.3" y1="197.2" x2="1603.3" y2="194.39999999999998" stroke-width="1.6"/>
<line x1="1612.2" y1="434.2" x2="1612.2" y2="443.0" stroke-width="3"/><line x1="1612.2" y1="197.2" x2="1612.2" y2="188.39999999999998" stroke-width="3"/>
<line x1="1621.1" y1="434.2" x2="1621.1" y2="437.0" stroke-width="1.6"/><line x1="1621.1" y1="197.2" x2="1621.1" y2="194.39999999999998" stroke-width="1.6"/>
<line x1="1629.9" y1="434.2" x2="1629.9" y2="437.0" stroke-width="1.6"/><line x1="1629.9" y1="197.2" x2="1629.9" y2="194.39999999999998" stroke-width="1.6"/>
<line x1="1638.8" y1="434.2" x2="1638.8" y2="437.0" stroke-width="1.6"/><line x1="1638.8" y1="197.2" x2="1638.8" y2="194.39999999999998" stroke-width="1.6"/>
<line x1="1647.7" y1="434.2" x2="1647.7" y2="437.0" stroke-width="1.6"/><line x1="1647.7" y1="197.2" x2="1647.7" y2="194.39999999999998" stroke-width="1.6"/>
<line x1="1656.5" y1="434.2" x2="1656.5" y2="443.0" stroke-width="3"/><line x1="1656.5" y1="197.2" x2="1656.5" y2="188.39999999999998" stroke-width="3"/>
<line x1="1665.4" y1="434.2" x2="1665.4" y2="437.0" stroke-width="1.6"/><line x1="1665.4" y1="197.2" x2="1665.4" y2="194.39999999999998" stroke-width="1.6"/>
<line x1="1674.3" y1="434.2" x2="1674.3" y2="437.0" stroke-width="1.6"/><line x1="1674.3" y1="197.2" x2="1674.3" y2="194.39999999999998" stroke-width="1.6"/>
<line x1="1683.2" y1="434.2" x2="1683.2" y2="437.0" stroke-width="1.6"/><line x1="1683.2" y1="197.2" x2="1683.2" y2="194.39999999999998" stroke-width="1.6"/>
<line x1="1692.0" y1="434.2" x2="1692.0" y2="437.0" stroke-width="1.6"/><line x1="1692.0" y1="197.2" x2="1692.0" y2="194.39999999999998" stroke-width="1.6"/>
<line x1="1700.9" y1="434.2" x2="1700.9" y2="443.0" stroke-width="3"/><line x1="1700.9" y1="197.2" x2="1700.9" y2="188.39999999999998" stroke-width="3"/>
<line x1="1709.8" y1="434.2" x2="1709.8" y2="437.0" stroke-width="1.6"/><line x1="1709.8" y1="197.2" x2="1709.8" y2="194.39999999999998" stroke-width="1.6"/>
<line x1="1718.6" y1="434.2" x2="1718.6" y2="437.0" stroke-width="1.6"/><line x1="1718.6" y1="197.2" x2="1718.6" y2="194.39999999999998" stroke-width="1.6"/>
<line x1="1727.5" y1="434.2" x2="1727.5" y2="437.0" stroke-width="1.6"/><line x1="1727.5" y1="197.2" x2="1727.5" y2="194.39999999999998" stroke-width="1.6"/>
<line x1="1736.4" y1="434.2" x2="1736.4" y2="437.0" stroke-width="1.6"/><line x1="1736.4" y1="197.2" x2="1736.4" y2="194.39999999999998" stroke-width="1.6"/>
<line x1="1745.2" y1="434.2" x2="1745.2" y2="443.0" stroke-width="3"/><line x1="1745.2" y1="197.2" x2="1745.2" y2="188.39999999999998" stroke-width="3"/>
<line x1="1754.1" y1="434.2" x2="1754.1" y2="437.0" stroke-width="1.6"/><line x1="1754.1" y1="197.2" x2="1754.1" y2="194.39999999999998" stroke-width="1.6"/>
<line x1="1763.0" y1="434.2" x2="1763.0" y2="437.0" stroke-width="1.6"/><line x1="1763.0" y1="197.2" x2="1763.0" y2="194.39999999999998" stroke-width="1.6"/>
<line x1="1771.9" y1="434.2" x2="1771.9" y2="437.0" stroke-width="1.6"/><line x1="1771.9" y1="197.2" x2="1771.9" y2="194.39999999999998" stroke-width="1.6"/>
<line x1="1780.7" y1="434.2" x2="1780.7" y2="437.0" stroke-width="1.6"/><line x1="1780.7" y1="197.2" x2="1780.7" y2="194.39999999999998" stroke-width="1.6"/>
<line x1="1789.6" y1="434.2" x2="1789.6" y2="443.0" stroke-width="3"/><line x1="1789.6" y1="197.2" x2="1789.6" y2="188.39999999999998" stroke-width="3"/>
<line x1="1798.5" y1="434.2" x2="1798.5" y2="437.0" stroke-width="1.6"/><line x1="1798.5" y1="197.2" x2="1798.5" y2="194.39999999999998" stroke-width="1.6"/>
<line x1="1807.3" y1="434.2" x2="1807.3" y2="437.0" stroke-width="1.6"/><line x1="1807.3" y1="197.2" x2="1807.3" y2="194.39999999999998" stroke-width="1.6"/>
<line x1="1816.2" y1="434.2" x2="1816.2" y2="437.0" stroke-width="1.6"/><line x1="1816.2" y1="197.2" x2="1816.2" y2="194.39999999999998" stroke-width="1.6"/>
<line x1="1514.8" y1="434.4" x2="1511.3999999999999" y2="434.4" stroke-width="1.6"/><line x1="1815.6" y1="434.4" x2="1819.0" y2="434.4" stroke-width="1.6"/>
<line x1="1514.8" y1="425.6" x2="1511.3999999999999" y2="425.6" stroke-width="1.6"/><line x1="1815.6" y1="425.6" x2="1819.0" y2="425.6" stroke-width="1.6"/>
<line x1="1514.8" y1="416.7" x2="1506.0" y2="416.7" stroke-width="3"/><line x1="1815.6" y1="416.7" x2="1824.3999999999999" y2="416.7" stroke-width="3"/>
<line x1="1514.8" y1="407.7" x2="1511.3999999999999" y2="407.7" stroke-width="1.6"/><line x1="1815.6" y1="407.7" x2="1819.0" y2="407.7" stroke-width="1.6"/>
<line x1="1514.8" y1="398.8" x2="1511.3999999999999" y2="398.8" stroke-width="1.6"/><line x1="1815.6" y1="398.8" x2="1819.0" y2="398.8" stroke-width="1.6"/>
<line x1="1514.8" y1="389.8" x2="1511.3999999999999" y2="389.8" stroke-width="1.6"/><line x1="1815.6" y1="389.8" x2="1819.0" y2="389.8" stroke-width="1.6"/>
<line x1="1514.8" y1="380.8" x2="1511.3999999999999" y2="380.8" stroke-width="1.6"/><line x1="1815.6" y1="380.8" x2="1819.0" y2="380.8" stroke-width="1.6"/>
<line x1="1514.8" y1="371.7" x2="1506.0" y2="371.7" stroke-width="3"/><line x1="1815.6" y1="371.7" x2="1824.3999999999999" y2="371.7" stroke-width="3"/>
<line x1="1514.8" y1="362.6" x2="1511.3999999999999" y2="362.6" stroke-width="1.6"/><line x1="1815.6" y1="362.6" x2="1819.0" y2="362.6" stroke-width="1.6"/>
<line x1="1514.8" y1="353.4" x2="1511.3999999999999" y2="353.4" stroke-width="1.6"/><line x1="1815.6" y1="353.4" x2="1819.0" y2="353.4" stroke-width="1.6"/>
<line x1="1514.8" y1="344.2" x2="1511.3999999999999" y2="344.2" stroke-width="1.6"/><line x1="1815.6" y1="344.2" x2="1819.0" y2="344.2" stroke-width="1.6"/>
<line x1="1514.8" y1="335.0" x2="1511.3999999999999" y2="335.0" stroke-width="1.6"/><line x1="1815.6" y1="335.0" x2="1819.0" y2="335.0" stroke-width="1.6"/>
<line x1="1514.8" y1="325.6" x2="1506.0" y2="325.6" stroke-width="3"/><line x1="1815.6" y1="325.6" x2="1824.3999999999999" y2="325.6" stroke-width="3"/>
<line x1="1514.8" y1="316.3" x2="1511.3999999999999" y2="316.3" stroke-width="1.6"/><line x1="1815.6" y1="316.3" x2="1819.0" y2="316.3" stroke-width="1.6"/>
<line x1="1514.8" y1="306.8" x2="1511.3999999999999" y2="306.8" stroke-width="1.6"/><line x1="1815.6" y1="306.8" x2="1819.0" y2="306.8" stroke-width="1.6"/>
<line x1="1514.8" y1="297.3" x2="1511.3999999999999" y2="297.3" stroke-width="1.6"/><line x1="1815.6" y1="297.3" x2="1819.0" y2="297.3" stroke-width="1.6"/>
<line x1="1514.8" y1="287.8" x2="1511.3999999999999" y2="287.8" stroke-width="1.6"/><line x1="1815.6" y1="287.8" x2="1819.0" y2="287.8" stroke-width="1.6"/>
<line x1="1514.8" y1="278.1" x2="1506.0" y2="278.1" stroke-width="3"/><line x1="1815.6" y1="278.1" x2="1824.3999999999999" y2="278.1" stroke-width="3"/>
<line x1="1514.8" y1="268.4" x2="1511.3999999999999" y2="268.4" stroke-width="1.6"/><line x1="1815.6" y1="268.4" x2="1819.0" y2="268.4" stroke-width="1.6"/>
<line x1="1514.8" y1="258.6" x2="1511.3999999999999" y2="258.6" stroke-width="1.6"/><line x1="1815.6" y1="258.6" x2="1819.0" y2="258.6" stroke-width="1.6"/>
<line x1="1514.8" y1="248.7" x2="1511.3999999999999" y2="248.7" stroke-width="1.6"/><line x1="1815.6" y1="248.7" x2="1819.0" y2="248.7" stroke-width="1.6"/>
<line x1="1514.8" y1="238.7" x2="1511.3999999999999" y2="238.7" stroke-width="1.6"/><line x1="1815.6" y1="238.7" x2="1819.0" y2="238.7" stroke-width="1.6"/>
<line x1="1514.8" y1="228.6" x2="1506.0" y2="228.6" stroke-width="3"/><line x1="1815.6" y1="228.6" x2="1824.3999999999999" y2="228.6" stroke-width="3"/>
<line x1="1514.8" y1="218.4" x2="1511.3999999999999" y2="218.4" stroke-width="1.6"/><line x1="1815.6" y1="218.4" x2="1819.0" y2="218.4" stroke-width="1.6"/>
<line x1="1514.8" y1="208.1" x2="1511.3999999999999" y2="208.1" stroke-width="1.6"/><line x1="1815.6" y1="208.1" x2="1819.0" y2="208.1" stroke-width="1.6"/>
<line x1="1514.8" y1="197.7" x2="1511.3999999999999" y2="197.7" stroke-width="1.6"/><line x1="1815.6" y1="197.7" x2="1819.0" y2="197.7" stroke-width="1.6"/>
</g>
<g font-size="14.2">
<text x="1500.8" y="460" textLength="45.4" lengthAdjust="spacingAndGlyphs">125°W</text>
<text x="1545.1" y="460" textLength="45.4" lengthAdjust="spacingAndGlyphs">120°W</text>
<text x="1589.5" y="460" textLength="45.4" lengthAdjust="spacingAndGlyphs">115°W</text>
<text x="1633.8" y="460" textLength="45.4" lengthAdjust="spacingAndGlyphs">110°W</text>
<text x="1678.2" y="460" textLength="45.4" lengthAdjust="spacingAndGlyphs">105°W</text>
<text x="1722.5" y="460" textLength="45.4" lengthAdjust="spacingAndGlyphs">100°W</text>
<text x="1771.1" y="460" textLength="37.0" lengthAdjust="spacingAndGlyphs">95°W</text>
<text x="1465.1" y="422.0" textLength="33.8" lengthAdjust="spacingAndGlyphs">10°N</text>
<text x="1465.1" y="377.0" textLength="33.8" lengthAdjust="spacingAndGlyphs">15°N</text>
<text x="1465.1" y="330.9" textLength="33.8" lengthAdjust="spacingAndGlyphs">20°N</text>
<text x="1465.1" y="283.4" textLength="33.8" lengthAdjust="spacingAndGlyphs">25°N</text>
<text x="1465.1" y="233.9" textLength="33.8" lengthAdjust="spacingAndGlyphs">30°N</text>
</g>
</g>
</svg>
</body></html>
